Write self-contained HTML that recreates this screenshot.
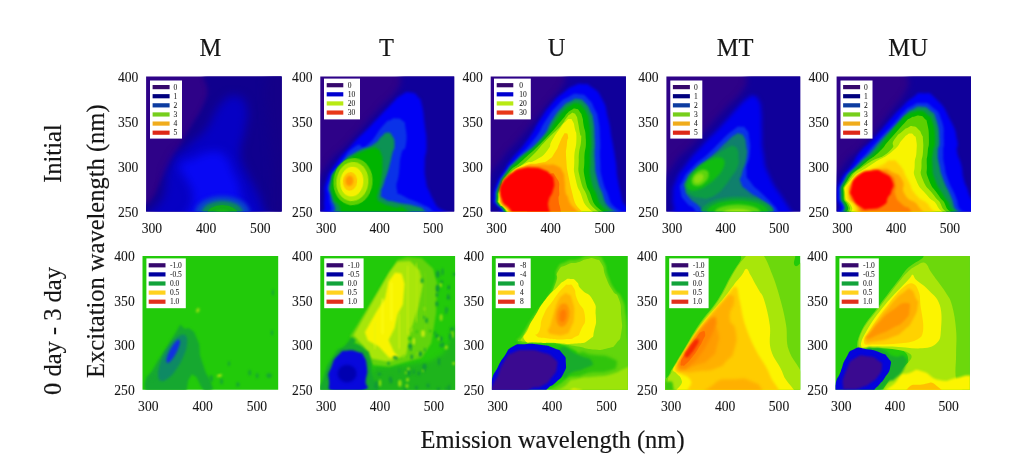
<!DOCTYPE html>
<html lang="en">
<head>
<meta charset="utf-8">
<title>Excitation-emission matrix contour plots</title>
<style>
html,body{margin:0;padding:0;background:#fff;}
body{width:1024px;height:472px;overflow:hidden;}
svg{display:block;font-family:"Liberation Serif", "DejaVu Serif", serif;}
text{fill:#151515;}
.t{font-size:13.6px;stroke:#151515;stroke-width:0.08px;}
.h{font-size:24.5px;stroke:#151515;stroke-width:0.16px;}
</style>
</head>
<body>
<svg width="1024" height="472" viewBox="0 0 1024 472">
<rect width="1024" height="472" fill="#fff"/>
<defs>
<filter id="z2" x="-60%" y="-60%" width="220%" height="220%" color-interpolation-filters="sRGB"><feGaussianBlur stdDeviation="2"/></filter>
<filter id="z3" x="-60%" y="-60%" width="220%" height="220%" color-interpolation-filters="sRGB"><feGaussianBlur stdDeviation="3"/></filter>
<filter id="z4" x="-60%" y="-60%" width="220%" height="220%" color-interpolation-filters="sRGB"><feGaussianBlur stdDeviation="4"/></filter>
<filter id="z6" x="-60%" y="-60%" width="220%" height="220%" color-interpolation-filters="sRGB"><feGaussianBlur stdDeviation="6"/></filter>
<filter id="z8" x="-60%" y="-60%" width="220%" height="220%" color-interpolation-filters="sRGB"><feGaussianBlur stdDeviation="8"/></filter>
<filter id="z10" x="-60%" y="-60%" width="220%" height="220%" color-interpolation-filters="sRGB"><feGaussianBlur stdDeviation="10"/></filter>
<filter id="z12" x="-60%" y="-60%" width="220%" height="220%" color-interpolation-filters="sRGB"><feGaussianBlur stdDeviation="12"/></filter>
<filter id="z16" x="-60%" y="-60%" width="220%" height="220%" color-interpolation-filters="sRGB"><feGaussianBlur stdDeviation="16"/></filter>
<filter id="z20" x="-60%" y="-60%" width="220%" height="220%" color-interpolation-filters="sRGB"><feGaussianBlur stdDeviation="20"/></filter>
<filter id="z26" x="-60%" y="-60%" width="220%" height="220%" color-interpolation-filters="sRGB"><feGaussianBlur stdDeviation="26"/></filter>
<filter id="z34" x="-60%" y="-60%" width="220%" height="220%" color-interpolation-filters="sRGB"><feGaussianBlur stdDeviation="34"/></filter>

<filter id="b1" x="-30%" y="-30%" width="160%" height="160%"><feGaussianBlur stdDeviation="1"/></filter>
<filter id="b2" x="-30%" y="-30%" width="160%" height="160%"><feGaussianBlur stdDeviation="2"/></filter>
<filter id="b3" x="-30%" y="-30%" width="160%" height="160%"><feGaussianBlur stdDeviation="3"/></filter>
<filter id="b5" x="-40%" y="-40%" width="180%" height="180%"><feGaussianBlur stdDeviation="5"/></filter>
<filter id="b8" x="-50%" y="-50%" width="200%" height="200%"><feGaussianBlur stdDeviation="8"/></filter>

</defs>
<text class="h" x="210.3" y="56" text-anchor="middle">M</text>
<text class="h" x="386.5" y="56" text-anchor="middle">T</text>
<text class="h" x="556.6" y="56" text-anchor="middle">U</text>
<text class="h" x="735.2" y="56" text-anchor="middle">MT</text>
<text class="h" x="908.1" y="56" text-anchor="middle">MU</text>
<text class="h" transform="translate(61.3 153.6) rotate(-90)" text-anchor="middle">Initial</text>
<text class="h" transform="translate(61.3 331) rotate(-90)" text-anchor="middle">0 day - 3 day</text>
<text class="h" transform="translate(104.2 241.2) rotate(-90)" text-anchor="middle">Excitation wavelength (nm)</text>
<text class="h" x="552.6" y="447.6" text-anchor="middle">Emission wavelength (nm)</text>
<text class="t" x="138.3" y="81.6" text-anchor="end">400</text>
<text class="t" x="138.3" y="126.6" text-anchor="end">350</text>
<text class="t" x="138.3" y="171.7" text-anchor="end">300</text>
<text class="t" x="138.3" y="216.7" text-anchor="end">250</text>
<text class="t" x="151.9" y="232.8" text-anchor="middle">300</text>
<text class="t" x="206.1" y="232.8" text-anchor="middle">400</text>
<text class="t" x="260.3" y="232.8" text-anchor="middle">500</text>
<svg x="146.1" y="76.5" width="135.5" height="135.1" viewBox="0 0 135.5 135.1" overflow="hidden">
<rect x="-2" y="-2" width="139.5" height="139.1" fill="#2e0288"/><g transform="translate(-2.10 -2.50) scale(0.29661)"><path d="M-30.0,520.0C-205.0,493.3 -23.3,471.7 -5.0,440.0C13.3,408.3 -2.7,465.0 25.0,425.0C52.7,385.0 35.7,398.7 78.0,320.0C120.3,241.3 109.0,266.3 152.0,189.0C195.0,111.7 174.3,161.0 207.0,88.0C239.7,15.0 145.7,9.3 250.0,-30.0C354.3,-69.3 430.0,-213.3 520.0,-30.0C610.0,153.3 703.3,336.7 520.0,520.0C336.7,703.3 145.0,546.7 -30.0,520.0Z" fill="#10008e" filter="url(#z8)"/><path d="M50.0,520.0C-63.7,480.0 55.0,473.3 69.0,400.0C83.0,326.7 65.0,353.3 92.0,300.0C119.0,246.7 111.7,277.0 150.0,240.0C188.3,203.0 177.0,225.7 207.0,189.0C237.0,152.3 219.0,163.0 240.0,130.0C261.0,97.0 246.7,108.3 270.0,90.0C293.3,71.7 285.0,68.3 310.0,75.0C335.0,81.7 335.0,72.0 345.0,110.0C355.0,148.0 346.7,139.0 340.0,189.0C333.3,239.0 325.0,216.3 325.0,260.0C325.0,303.7 322.3,276.3 340.0,320.0C357.7,363.7 358.0,347.7 378.0,391.0C398.0,434.3 389.3,407.0 400.0,450.0C410.7,493.0 526.7,496.7 410.0,520.0C293.3,543.3 163.7,560.0 50.0,520.0Z" fill="#0600c4" filter="url(#z16)"/><path d="M150.0,520.0C93.3,486.7 168.3,476.7 165.0,420.0C161.7,363.3 155.0,386.7 140.0,350.0C125.0,313.3 111.7,331.7 120.0,310.0C128.3,288.3 128.3,301.0 165.0,285.0C201.7,269.0 193.3,263.7 230.0,262.0C266.7,260.3 251.7,257.3 275.0,280.0C298.3,302.7 283.3,290.0 300.0,330.0C316.7,370.0 313.3,336.7 325.0,400.0C336.7,463.3 393.3,480.0 335.0,520.0C276.7,560.0 206.7,553.3 150.0,520.0Z" fill="#0808f4" filter="url(#z16)"/><path d="M425.0,-30.0C455.0,-140.0 488.3,-213.3 520.0,-30.0C551.7,153.3 543.3,336.7 520.0,520.0C496.7,703.3 480.0,593.3 450.0,520.0C420.0,446.7 438.3,483.3 430.0,300.0C421.7,116.7 395.0,80.0 425.0,-30.0Z" fill="#140088" filter="url(#z16)"/><ellipse cx="264" cy="468" rx="92" ry="56" fill="#0a48c8" filter="url(#z8)"/><ellipse cx="264" cy="470" rx="70" ry="42" fill="#0c8a58" filter="url(#z6)"/><ellipse cx="264" cy="472" rx="52" ry="30" fill="#10ac18" filter="url(#z5)"/><ellipse cx="264" cy="474" rx="30" ry="16" fill="#18bc10" filter="url(#z4)"/></g><rect x="3.9" y="4.0" width="32" height="58.1" fill="#fff"/><rect x="6.5" y="8.50" width="17" height="4.2" fill="#36086c"/><text x="27.5" y="13.07" font-size="7.5" style="fill:#222;stroke:#222;stroke-width:0.06px">0</text><rect x="6.5" y="17.62" width="17" height="4.2" fill="#00007e"/><text x="27.5" y="22.20" font-size="7.5" style="fill:#222;stroke:#222;stroke-width:0.06px">1</text><rect x="6.5" y="26.74" width="17" height="4.2" fill="#0c3ca0"/><text x="27.5" y="31.31" font-size="7.5" style="fill:#222;stroke:#222;stroke-width:0.06px">2</text><rect x="6.5" y="35.86" width="17" height="4.2" fill="#76ce1c"/><text x="27.5" y="40.44" font-size="7.5" style="fill:#222;stroke:#222;stroke-width:0.06px">3</text><rect x="6.5" y="44.98" width="17" height="4.2" fill="#f0ac1c"/><text x="27.5" y="49.55" font-size="7.5" style="fill:#222;stroke:#222;stroke-width:0.06px">4</text><rect x="6.5" y="54.10" width="17" height="4.2" fill="#de2818"/><text x="27.5" y="58.67" font-size="7.5" style="fill:#222;stroke:#222;stroke-width:0.06px">5</text>
</svg>
<text class="t" x="312.5" y="81.6" text-anchor="end">400</text>
<text class="t" x="312.5" y="126.6" text-anchor="end">350</text>
<text class="t" x="312.5" y="171.7" text-anchor="end">300</text>
<text class="t" x="312.5" y="216.7" text-anchor="end">250</text>
<text class="t" x="326.1" y="232.8" text-anchor="middle">300</text>
<text class="t" x="379.6" y="232.8" text-anchor="middle">400</text>
<text class="t" x="433.2" y="232.8" text-anchor="middle">500</text>
<svg x="320.3" y="76.5" width="133.9" height="135.1" viewBox="0 0 133.9 135.1" overflow="hidden">
<rect x="-2" y="-2" width="137.9" height="139.1" fill="#2e0288"/><g transform="translate(-2.30 -2.50) scale(0.29661)"><path d="M-30.0,520.0C-206.7,480.0 -30.0,470.0 -10.0,400.0C10.0,330.0 -10.0,368.3 30.0,310.0C70.0,251.7 53.3,286.7 110.0,225.0C166.7,163.3 146.7,183.3 200.0,125.0C253.3,66.7 233.3,101.7 270.0,50.0C306.7,-1.7 226.7,-3.3 310.0,-30.0C393.3,-56.7 450.0,-213.3 520.0,-30.0C590.0,153.3 703.3,336.7 520.0,520.0C336.7,703.3 146.7,560.0 -30.0,520.0Z" fill="#10009a" filter="url(#z10)"/><path d="M30.0,500.0C-104.3,484.0 24.7,480.3 22.0,452.0C19.3,423.7 20.0,445.3 22.0,415.0C24.0,384.7 14.7,399.3 28.0,361.0C41.3,322.7 33.7,340.3 62.0,300.0C90.3,259.7 73.7,282.7 113.0,240.0C152.3,197.3 136.0,217.3 180.0,172.0C224.0,126.7 211.7,137.3 245.0,104.0C278.3,70.7 257.7,86.0 280.0,72.0C302.3,58.0 292.7,60.0 312.0,62.0C331.3,64.0 325.3,64.0 338.0,78.0C350.7,92.0 342.7,72.7 350.0,104.0C357.3,135.3 354.7,127.0 360.0,172.0C365.3,217.0 366.0,196.3 366.0,239.0C366.0,281.7 360.7,259.3 360.0,300.0C359.3,340.7 358.7,328.3 364.0,361.0C369.3,393.7 365.0,371.3 376.0,398.0C387.0,424.7 380.7,407.0 397.0,441.0C413.3,475.0 547.3,480.3 425.0,500.0C302.7,519.7 164.3,516.0 30.0,500.0Z" fill="#0000f4" filter="url(#z6)"/><path d="M55.0,500.0C-65.0,484.0 50.7,480.3 45.0,452.0C39.3,423.7 40.3,445.3 38.0,415.0C35.7,384.7 25.3,399.3 38.0,361.0C50.7,322.7 47.0,338.7 76.0,300.0C105.0,261.3 95.0,265.3 125.0,245.0C155.0,224.7 134.0,263.3 166.0,239.0C198.0,214.7 194.7,200.0 221.0,172.0C247.3,144.0 230.7,162.3 245.0,155.0C259.3,147.7 250.7,149.0 264.0,150.0C277.3,151.0 274.7,148.0 285.0,158.0C295.3,168.0 291.3,153.0 295.0,180.0C298.7,207.0 300.7,209.0 296.0,239.0C291.3,269.0 288.7,238.3 281.0,270.0C273.3,301.7 278.0,294.0 273.0,334.0C268.0,374.0 261.0,364.3 266.0,390.0C271.0,415.7 262.0,395.3 288.0,411.0C314.0,426.7 311.0,419.7 344.0,437.0C377.0,454.3 366.7,442.0 387.0,463.0C407.3,484.0 515.7,487.7 405.0,500.0C294.3,512.3 175.0,516.0 55.0,500.0Z" fill="#0a32e8" filter="url(#z4)"/><path d="M68.0,500.0C-41.0,484.0 65.7,480.3 58.0,452.0C50.3,423.7 50.0,445.3 45.0,415.0C40.0,384.7 30.7,399.3 43.0,361.0C55.3,322.7 53.0,333.0 82.0,300.0C111.0,267.0 96.0,282.3 130.0,262.0C164.0,241.7 155.7,256.3 184.0,239.0C212.3,221.7 199.0,223.7 215.0,210.0C231.0,196.3 220.3,198.7 232.0,198.0C243.7,197.3 241.3,194.3 250.0,208.0C258.7,221.7 258.0,218.3 258.0,239.0C258.0,259.7 256.0,245.3 250.0,270.0C244.0,294.7 249.3,280.3 240.0,313.0C230.7,345.7 231.0,339.7 222.0,368.0C213.0,396.3 213.0,380.7 213.0,398.0C213.0,415.3 204.0,408.3 222.0,420.0C240.0,431.7 230.7,424.3 267.0,433.0C303.3,441.7 299.7,436.0 331.0,446.0C362.3,456.0 343.0,445.0 361.0,463.0C379.0,481.0 482.7,487.7 385.0,500.0C287.3,512.3 177.0,516.0 68.0,500.0Z" fill="#0c9254" filter="url(#z3)"/><path d="M85.0,500.0C5.0,484.0 86.3,480.3 75.0,452.0C63.7,423.7 60.7,445.3 51.0,415.0C41.3,384.7 43.0,391.0 46.0,361.0C49.0,331.0 46.0,346.0 60.0,325.0C74.0,304.0 68.0,314.3 88.0,298.0C108.0,281.7 99.3,288.3 120.0,276.0C140.7,263.7 130.0,269.7 150.0,261.0C170.0,252.3 163.3,253.0 180.0,250.0C196.7,247.0 189.0,245.3 200.0,252.0C211.0,258.7 207.3,254.0 213.0,270.0C218.7,286.0 217.0,271.7 217.0,300.0C217.0,328.3 217.7,322.3 213.0,355.0C208.3,387.7 207.3,377.0 203.0,398.0C198.7,419.0 196.0,406.0 200.0,418.0C204.0,430.0 196.7,424.0 215.0,434.0C233.3,444.0 228.3,440.7 255.0,448.0C281.7,455.3 275.0,438.7 295.0,456.0C315.0,473.3 385.0,485.3 315.0,500.0C245.0,514.7 165.0,516.0 85.0,500.0Z" fill="#00b400" filter="url(#z3)"/><ellipse cx="118" cy="363" rx="66" ry="80" fill="#5cd000" filter="url(#z2)" transform="rotate(6 118 363)"/><ellipse cx="116" cy="363" rx="54" ry="66" fill="#b0e800" filter="url(#z2)" transform="rotate(6 116 363)"/><ellipse cx="114" cy="363" rx="39" ry="50" fill="#f6f000" filter="url(#z2)" transform="rotate(6 114 363)"/><ellipse cx="108" cy="362" rx="24" ry="32" fill="#ffc800" filter="url(#z2)" transform="rotate(6 108 362)"/><ellipse cx="106" cy="360" rx="13.5" ry="18" fill="#ff9600" filter="url(#z3)" transform="rotate(6 106 360)"/></g><rect x="3.7" y="2.1" width="36" height="40.8" fill="#fff"/><rect x="6.4" y="6.60" width="16.6" height="4.2" fill="#36086c"/><text x="27.5" y="11.17" font-size="7.5" style="fill:#222;stroke:#222;stroke-width:0.06px">0</text><rect x="6.4" y="15.72" width="16.6" height="4.2" fill="#0000d0"/><text x="27.5" y="20.30" font-size="7.5" style="fill:#222;stroke:#222;stroke-width:0.06px">10</text><rect x="6.4" y="24.84" width="16.6" height="4.2" fill="#b8ea14"/><text x="27.5" y="29.41" font-size="7.5" style="fill:#222;stroke:#222;stroke-width:0.06px">20</text><rect x="6.4" y="33.96" width="16.6" height="4.2" fill="#e8381a"/><text x="27.5" y="38.54" font-size="7.5" style="fill:#222;stroke:#222;stroke-width:0.06px">30</text>
</svg>
<text class="t" x="482.9" y="81.6" text-anchor="end">400</text>
<text class="t" x="482.9" y="126.6" text-anchor="end">350</text>
<text class="t" x="482.9" y="171.7" text-anchor="end">300</text>
<text class="t" x="482.9" y="216.7" text-anchor="end">250</text>
<text class="t" x="496.5" y="232.8" text-anchor="middle">300</text>
<text class="t" x="550.6" y="232.8" text-anchor="middle">400</text>
<text class="t" x="604.7" y="232.8" text-anchor="middle">500</text>
<svg x="490.7" y="76.5" width="135.2" height="135.1" viewBox="0 0 135.2 135.1" overflow="hidden">
<rect x="-2" y="-2" width="139.2" height="139.1" fill="#2e0288"/><g transform="translate(-2.70 -2.50) scale(0.29661)"><path d="M-30.0,520.0C-205.0,473.3 -30.0,456.7 -5.0,380.0C20.0,303.3 5.0,346.7 45.0,290.0C85.0,233.3 65.0,270.0 115.0,210.0C165.0,150.0 148.3,168.3 195.0,110.0C241.7,51.7 223.3,81.7 255.0,35.0C286.7,-11.7 201.7,-8.3 290.0,-30.0C378.3,-51.7 443.3,-213.3 520.0,-30.0C596.7,153.3 703.3,336.7 520.0,520.0C336.7,703.3 145.0,566.7 -30.0,520.0Z" fill="#10009a" filter="url(#z10)"/><path d="M66.0,500.0C-74.0,486.0 56.7,478.7 42.0,458.0C27.3,437.3 30.0,450.7 22.0,438.0C14.0,425.3 16.0,442.0 18.0,420.0C20.0,398.0 14.7,405.3 28.0,372.0C41.3,338.7 41.3,347.3 58.0,320.0C74.7,292.7 52.7,322.7 78.0,290.0C103.3,257.3 101.7,267.0 134.0,222.0C166.3,177.0 148.0,195.7 175.0,155.0C202.0,114.3 187.3,131.7 215.0,100.0C242.7,68.3 233.0,80.0 258.0,60.0C283.0,40.0 270.0,48.7 290.0,40.0C310.0,31.3 298.0,32.3 318.0,34.0C338.0,35.7 327.7,28.0 350.0,45.0C372.3,62.0 366.7,50.0 385.0,85.0C403.3,120.0 394.0,104.3 405.0,150.0C416.0,195.7 409.7,175.3 418.0,222.0C426.3,268.7 423.3,245.0 430.0,290.0C436.7,335.0 430.7,312.0 438.0,357.0C445.3,402.0 444.0,377.3 452.0,425.0C460.0,472.7 590.7,475.0 462.0,500.0C333.3,525.0 206.0,514.0 66.0,500.0Z" fill="#0000f4" filter="url(#z6)"/><path d="M74.0,500.0C-50.3,486.0 64.0,478.7 49.0,458.0C34.0,437.3 37.0,450.7 29.0,438.0C21.0,425.3 23.7,440.7 25.0,420.0C26.3,399.3 20.7,407.7 33.0,376.0C45.3,344.3 42.3,353.7 62.0,325.0C81.7,296.3 61.0,324.3 92.0,290.0C123.0,255.7 120.3,267.0 155.0,222.0C189.7,177.0 169.3,194.0 196.0,155.0C222.7,116.0 210.3,130.7 235.0,105.0C259.7,79.3 245.7,90.3 270.0,78.0C294.3,65.7 285.3,66.0 308.0,68.0C330.7,70.0 320.7,66.7 338.0,84.0C355.3,101.3 348.7,96.3 360.0,120.0C371.3,143.7 366.0,121.0 372.0,155.0C378.0,189.0 376.0,177.0 378.0,222.0C380.0,267.0 375.3,245.0 378.0,290.0C380.7,335.0 375.3,312.0 386.0,357.0C396.7,402.0 398.0,377.3 410.0,425.0C422.0,472.7 534.0,475.0 422.0,500.0C310.0,525.0 198.3,514.0 74.0,500.0Z" fill="#0a32e8" filter="url(#z4)"/><path d="M77.0,500.0C-39.7,486.0 67.0,478.7 52.0,458.0C37.0,437.3 40.0,450.7 32.0,438.0C24.0,425.3 26.7,440.0 28.0,420.0C29.3,400.0 24.0,408.7 36.0,378.0C48.0,347.3 43.3,357.3 64.0,328.0C84.7,298.7 61.0,325.3 98.0,290.0C135.0,254.7 135.3,267.0 175.0,222.0C214.7,177.0 192.0,191.7 217.0,155.0C242.0,118.3 229.7,133.0 250.0,112.0C270.3,91.0 260.0,101.3 278.0,92.0C296.0,82.7 287.3,82.0 304.0,84.0C320.7,86.0 314.0,83.3 328.0,98.0C342.0,112.7 337.0,109.0 346.0,128.0C355.0,147.0 350.3,123.7 355.0,155.0C359.7,186.3 358.3,177.0 360.0,222.0C361.7,267.0 357.0,245.0 360.0,290.0C363.0,335.0 358.3,312.0 369.0,357.0C379.7,402.0 381.0,377.3 392.0,425.0C403.0,472.7 507.0,475.0 402.0,500.0C297.0,525.0 193.7,514.0 77.0,500.0Z" fill="#0c9254" filter="url(#z3)"/><path d="M80.0,500.0C-29.7,486.0 70.0,478.7 55.0,458.0C40.0,437.3 43.0,450.7 35.0,438.0C27.0,425.3 29.7,439.3 31.0,420.0C32.3,400.7 27.3,409.7 39.0,380.0C50.7,350.3 44.3,361.0 66.0,331.0C87.7,301.0 65.3,326.3 104.0,290.0C142.7,253.7 140.0,267.0 182.0,222.0C224.0,177.0 205.3,188.0 230.0,155.0C254.7,122.0 240.0,139.3 256.0,123.0C272.0,106.7 263.3,114.0 278.0,106.0C292.7,98.0 286.0,97.0 300.0,99.0C314.0,101.0 308.7,99.7 320.0,112.0C331.3,124.3 327.3,121.7 334.0,136.0C340.7,150.3 335.7,126.3 340.0,155.0C344.3,183.7 345.3,177.0 347.0,222.0C348.7,267.0 344.7,245.0 345.0,290.0C345.3,335.0 339.0,312.0 348.0,357.0C357.0,402.0 360.0,377.3 372.0,425.0C384.0,472.7 481.3,475.0 384.0,500.0C286.7,525.0 189.7,514.0 80.0,500.0Z" fill="#00b400" filter="url(#z3)"/><path d="M82.0,500.0C-21.0,486.0 72.0,478.7 57.0,458.0C42.0,437.3 45.0,450.7 37.0,438.0C29.0,425.3 31.7,438.7 33.0,420.0C34.3,401.3 29.3,410.7 41.0,382.0C52.7,353.3 42.3,364.7 68.0,334.0C93.7,303.3 77.3,327.3 118.0,290.0C158.7,252.7 146.3,267.0 190.0,222.0C233.7,177.0 224.3,183.7 249.0,155.0C273.7,126.3 253.7,147.0 264.0,136.0C274.3,125.0 269.3,128.3 280.0,122.0C290.7,115.7 286.0,115.0 296.0,117.0C306.0,119.0 302.7,118.3 310.0,128.0C317.3,137.7 314.0,132.0 318.0,146.0C322.0,160.0 318.0,144.7 322.0,170.0C326.0,195.3 329.0,182.0 330.0,222.0C331.0,262.0 325.7,245.0 325.0,290.0C324.3,335.0 319.0,312.0 328.0,357.0C337.0,402.0 339.3,377.3 352.0,425.0C364.7,472.7 456.0,475.0 366.0,500.0C276.0,525.0 185.0,514.0 82.0,500.0Z" fill="#5cd000" filter="url(#z2)"/><path d="M84.0,500.0C-13.7,486.0 74.0,478.7 59.0,458.0C44.0,437.3 47.0,450.7 39.0,438.0C31.0,425.3 33.7,438.0 35.0,420.0C36.3,402.0 31.3,411.7 43.0,384.0C54.7,356.3 39.7,368.3 70.0,337.0C100.3,305.7 91.3,328.3 134.0,290.0C176.7,251.7 161.0,260.3 198.0,222.0C235.0,183.7 223.3,199.0 245.0,175.0C266.7,151.0 252.3,163.0 263.0,150.0C273.7,137.0 268.3,142.0 277.0,136.0C285.7,130.0 282.0,130.0 289.0,132.0C296.0,134.0 293.3,132.7 298.0,142.0C302.7,151.3 299.0,140.7 303.0,160.0C307.0,179.3 306.3,179.3 310.0,200.0C313.7,220.7 315.3,192.0 314.0,222.0C312.7,252.0 306.7,245.0 306.0,290.0C305.3,335.0 301.3,312.0 312.0,357.0C322.7,402.0 324.7,377.3 338.0,425.0C351.3,472.7 436.7,475.0 352.0,500.0C267.3,525.0 181.7,514.0 84.0,500.0Z" fill="#b0e800" filter="url(#z2)"/><path d="M87.0,500.0C-4.0,486.0 77.0,478.7 62.0,458.0C47.0,437.3 50.0,450.7 42.0,438.0C34.0,425.3 36.7,437.3 38.0,420.0C39.3,402.7 34.7,412.7 46.0,386.0C57.3,359.3 47.3,367.0 72.0,340.0C96.7,313.0 90.3,321.7 120.0,305.0C149.7,288.3 134.3,305.7 161.0,290.0C187.7,274.3 181.3,280.7 200.0,258.0C218.7,235.3 202.0,248.0 217.0,222.0C232.0,196.0 230.0,200.7 245.0,180.0C260.0,159.3 252.0,169.3 262.0,160.0C272.0,150.7 267.0,152.0 275.0,152.0C283.0,152.0 280.0,149.0 286.0,160.0C292.0,171.0 289.0,164.3 293.0,185.0C297.0,205.7 298.7,187.0 298.0,222.0C297.3,257.0 291.7,245.0 291.0,290.0C290.3,335.0 286.3,312.0 296.0,357.0C305.7,402.0 307.0,377.3 320.0,425.0C333.0,472.7 412.7,475.0 335.0,500.0C257.3,525.0 178.0,514.0 87.0,500.0Z" fill="#f8f400" filter="url(#z2)"/><path d="M90.0,500.0C10.0,486.0 80.0,478.7 65.0,458.0C50.0,437.3 53.0,450.7 45.0,438.0C37.0,425.3 39.3,436.7 41.0,420.0C42.7,403.3 38.7,413.3 50.0,388.0C61.3,362.7 51.0,369.7 75.0,344.0C99.0,318.3 89.7,325.7 122.0,311.0C154.3,296.3 145.0,307.0 172.0,300.0C199.0,293.0 184.7,302.7 203.0,290.0C221.3,277.3 214.7,280.0 227.0,262.0C239.3,244.0 231.7,253.3 240.0,236.0C248.3,218.7 244.7,222.0 252.0,210.0C259.3,198.0 256.0,199.3 262.0,200.0C268.0,200.7 268.7,200.0 270.0,212.0C271.3,224.0 268.0,210.0 266.0,236.0C264.0,262.0 261.3,249.7 264.0,290.0C266.7,330.3 265.3,312.0 274.0,357.0C282.7,402.0 279.7,377.3 290.0,425.0C300.3,472.7 371.7,475.0 305.0,500.0C238.3,525.0 170.0,514.0 90.0,500.0Z" fill="#ffc400" filter="url(#z2)"/><path d="M94.0,500.0C22.0,486.0 84.0,478.7 69.0,458.0C54.0,437.3 57.0,450.7 49.0,438.0C41.0,425.3 43.7,436.0 45.0,420.0C46.3,404.0 42.0,414.3 53.0,390.0C64.0,365.7 54.3,372.0 78.0,347.0C101.7,322.0 95.0,328.0 124.0,315.0C153.0,302.0 139.7,311.0 165.0,308.0C190.3,305.0 177.7,305.3 200.0,306.0C222.3,306.7 214.7,302.0 232.0,310.0C249.3,318.0 243.3,314.3 252.0,330.0C260.7,345.7 254.7,333.7 258.0,357.0C261.3,380.3 257.3,377.3 262.0,400.0C266.7,422.7 264.3,391.7 272.0,425.0C279.7,458.3 344.3,475.0 285.0,500.0C225.7,525.0 166.0,514.0 94.0,500.0Z" fill="#ff9800" filter="url(#z3)"/><path d="M150.0,500.0C116.7,460.0 133.3,433.3 150.0,380.0C166.7,326.7 172.7,349.3 200.0,340.0C227.3,330.7 218.7,333.7 232.0,352.0C245.3,370.3 238.0,370.7 240.0,395.0C242.0,419.3 236.3,403.3 238.0,425.0C239.7,446.7 241.0,435.0 245.0,460.0C249.0,485.0 281.7,486.7 250.0,500.0C218.3,513.3 183.3,540.0 150.0,500.0Z" fill="#ff6a00" filter="url(#z5)"/><path d="M100.0,500.0C53.3,486.0 90.3,478.7 75.0,458.0C59.7,437.3 63.7,450.0 54.0,438.0C44.3,426.0 50.7,434.7 46.0,422.0C41.3,409.3 42.0,412.7 40.0,400.0C38.0,387.3 37.3,395.3 40.0,384.0C42.7,372.7 41.3,377.3 48.0,366.0C54.7,354.7 47.7,362.0 60.0,350.0C72.3,338.0 66.7,340.7 85.0,330.0C103.3,319.3 93.3,323.0 115.0,318.0C136.7,313.0 126.7,313.7 150.0,315.0C173.3,316.3 165.0,314.3 185.0,322.0C205.0,329.7 197.7,325.0 210.0,338.0C222.3,351.0 219.3,342.0 222.0,361.0C224.7,380.0 223.7,373.7 218.0,395.0C212.3,416.3 209.3,405.0 205.0,425.0C200.7,445.0 201.7,430.0 205.0,455.0C208.3,480.0 250.0,485.0 215.0,500.0C180.0,515.0 146.7,514.0 100.0,500.0Z" fill="#ff0000" filter="url(#z3)"/></g><rect x="3.3" y="2.1" width="36.8" height="40.8" fill="#fff"/><rect x="6.0" y="6.60" width="16.6" height="4.2" fill="#36086c"/><text x="28.5" y="11.17" font-size="7.5" style="fill:#222;stroke:#222;stroke-width:0.06px">0</text><rect x="6.0" y="15.72" width="16.6" height="4.2" fill="#0000d0"/><text x="28.5" y="20.30" font-size="7.5" style="fill:#222;stroke:#222;stroke-width:0.06px">10</text><rect x="6.0" y="24.84" width="16.6" height="4.2" fill="#b8ea14"/><text x="28.5" y="29.41" font-size="7.5" style="fill:#222;stroke:#222;stroke-width:0.06px">20</text><rect x="6.0" y="33.96" width="16.6" height="4.2" fill="#e8381a"/><text x="28.5" y="38.54" font-size="7.5" style="fill:#222;stroke:#222;stroke-width:0.06px">30</text>
</svg>
<text class="t" x="658.6" y="81.6" text-anchor="end">400</text>
<text class="t" x="658.6" y="126.6" text-anchor="end">350</text>
<text class="t" x="658.6" y="171.7" text-anchor="end">300</text>
<text class="t" x="658.6" y="216.7" text-anchor="end">250</text>
<text class="t" x="672.2" y="232.8" text-anchor="middle">300</text>
<text class="t" x="725.7" y="232.8" text-anchor="middle">400</text>
<text class="t" x="779.2" y="232.8" text-anchor="middle">500</text>
<svg x="666.4" y="76.5" width="133.8" height="135.1" viewBox="0 0 133.8 135.1" overflow="hidden">
<rect x="-2" y="-2" width="137.8" height="139.1" fill="#2e0288"/><g transform="translate(-2.40 -2.50) scale(0.29661)"><path d="M-30.0,520.0C-206.7,480.0 -30.0,470.0 -10.0,400.0C10.0,330.0 -10.0,368.3 30.0,310.0C70.0,251.7 53.3,286.7 110.0,225.0C166.7,163.3 146.7,183.3 200.0,125.0C253.3,66.7 233.3,101.7 270.0,50.0C306.7,-1.7 226.7,-3.3 310.0,-30.0C393.3,-56.7 450.0,-213.3 520.0,-30.0C590.0,153.3 703.3,336.7 520.0,520.0C336.7,703.3 146.7,560.0 -30.0,520.0Z" fill="#10009a" filter="url(#z10)"/><path d="M50.0,500.0C-86.7,484.0 41.7,480.3 35.0,452.0C28.3,423.7 28.3,445.3 30.0,415.0C31.7,384.7 25.0,397.7 40.0,361.0C55.0,324.3 45.7,344.7 75.0,305.0C104.3,265.3 89.0,285.0 128.0,242.0C167.0,199.0 151.3,219.3 192.0,176.0C232.7,132.7 220.0,143.3 250.0,112.0C280.0,80.7 264.3,94.7 282.0,82.0C299.7,69.3 290.3,71.3 303.0,74.0C315.7,76.7 311.7,73.0 320.0,90.0C328.3,107.0 324.7,90.7 328.0,125.0C331.3,159.3 327.7,145.3 330.0,193.0C332.3,240.7 326.7,218.0 335.0,268.0C343.3,318.0 333.3,293.0 355.0,343.0C376.7,393.0 375.7,378.3 400.0,418.0C424.3,457.7 413.0,434.7 428.0,462.0C443.0,489.3 571.0,487.3 445.0,500.0C319.0,512.7 186.7,516.0 50.0,500.0Z" fill="#0000ee" filter="url(#z8)"/><path d="M120.0,500.0C21.7,486.3 120.0,481.3 105.0,459.0C90.0,436.7 91.3,454.0 75.0,433.0C58.7,412.0 59.7,421.0 56.0,396.0C52.3,371.0 50.0,385.7 64.0,358.0C78.0,330.3 69.3,343.0 98.0,313.0C126.7,283.0 117.7,298.0 150.0,268.0C182.3,238.0 166.7,249.7 195.0,223.0C223.3,196.3 213.7,203.0 235.0,188.0C256.3,173.0 244.7,178.0 259.0,178.0C273.3,178.0 268.7,175.7 278.0,188.0C287.3,200.3 283.3,188.3 287.0,215.0C290.7,241.7 292.0,230.3 289.0,268.0C286.0,305.7 276.7,295.3 278.0,328.0C279.3,360.7 275.7,341.0 293.0,366.0C310.3,391.0 305.0,378.0 330.0,403.0C355.0,428.0 350.3,421.3 368.0,441.0C385.7,460.7 372.3,442.3 383.0,462.0C393.7,481.7 487.7,487.3 400.0,500.0C312.3,512.7 218.3,513.7 120.0,500.0Z" fill="#0a32e8" filter="url(#z4)"/><path d="M140.0,500.0C57.7,487.3 137.0,481.7 128.0,462.0C119.0,442.3 127.0,455.7 113.0,441.0C99.0,426.3 100.0,435.7 86.0,418.0C72.0,400.3 74.7,408.0 71.0,388.0C67.3,368.0 63.7,380.7 75.0,358.0C86.3,335.3 77.3,346.3 105.0,320.0C132.7,293.7 123.0,309.0 158.0,279.0C193.0,249.0 182.7,254.7 210.0,230.0C237.3,205.3 224.3,214.3 240.0,205.0C255.7,195.7 247.0,199.7 257.0,202.0C267.0,204.3 263.3,199.3 270.0,212.0C276.7,224.7 274.3,216.3 277.0,240.0C279.7,263.7 282.7,251.3 278.0,283.0C273.3,314.7 269.3,307.3 263.0,335.0C256.7,362.7 251.7,345.7 259.0,366.0C266.3,386.3 261.3,376.0 285.0,396.0C308.7,416.0 305.0,404.0 330.0,426.0C355.0,448.0 345.0,437.3 360.0,462.0C375.0,486.7 448.3,487.3 375.0,500.0C301.7,512.7 222.3,512.7 140.0,500.0Z" fill="#10806c" filter="url(#z4)"/><path d="M128.0,418.0C108.0,414.3 107.7,418.3 90.0,407.0C72.3,395.7 78.7,400.3 75.0,384.0C71.3,367.7 69.0,378.0 79.0,358.0C89.0,338.0 81.3,346.7 105.0,324.0C128.7,301.3 120.0,311.3 150.0,290.0C180.0,268.7 171.7,275.0 195.0,260.0C218.3,245.0 206.3,250.3 220.0,245.0C233.7,239.7 226.7,240.3 236.0,244.0C245.3,247.7 243.0,244.0 248.0,256.0C253.0,268.0 251.0,261.0 251.0,280.0C251.0,299.0 256.7,289.7 248.0,313.0C239.3,336.3 240.0,327.7 225.0,350.0C210.0,372.3 218.0,362.3 203.0,380.0C188.0,397.7 197.7,390.3 180.0,403.0C162.3,415.7 167.3,413.0 150.0,418.0C132.7,423.0 148.0,421.7 128.0,418.0Z" fill="#0c9c44" filter="url(#z4)"/><ellipse cx="141" cy="337" rx="78" ry="33" fill="#10bc10" filter="url(#z4)" transform="rotate(-40 141 337)"/><ellipse cx="122" cy="350" rx="34" ry="22" fill="#5cd40c" filter="url(#z3)" transform="rotate(-42 122 350)"/><ellipse cx="117" cy="352" rx="19" ry="13" fill="#8cde10" filter="url(#z3)" transform="rotate(-42 117 352)"/><ellipse cx="248" cy="464" rx="122" ry="50" fill="#0c9c44" filter="url(#z4)"/><ellipse cx="248" cy="466" rx="104" ry="40" fill="#10bc10" filter="url(#z4)"/><ellipse cx="248" cy="468" rx="78" ry="28" fill="#5cd40c" filter="url(#z3)"/><ellipse cx="248" cy="470" rx="50" ry="15" fill="#a0e410" filter="url(#z3)"/></g><rect x="3.9" y="4.0" width="32" height="58.1" fill="#fff"/><rect x="6.5" y="8.50" width="17" height="4.2" fill="#36086c"/><text x="27.5" y="13.07" font-size="7.5" style="fill:#222;stroke:#222;stroke-width:0.06px">0</text><rect x="6.5" y="17.62" width="17" height="4.2" fill="#00007e"/><text x="27.5" y="22.20" font-size="7.5" style="fill:#222;stroke:#222;stroke-width:0.06px">1</text><rect x="6.5" y="26.74" width="17" height="4.2" fill="#0c3ca0"/><text x="27.5" y="31.31" font-size="7.5" style="fill:#222;stroke:#222;stroke-width:0.06px">2</text><rect x="6.5" y="35.86" width="17" height="4.2" fill="#76ce1c"/><text x="27.5" y="40.44" font-size="7.5" style="fill:#222;stroke:#222;stroke-width:0.06px">3</text><rect x="6.5" y="44.98" width="17" height="4.2" fill="#f0ac1c"/><text x="27.5" y="49.55" font-size="7.5" style="fill:#222;stroke:#222;stroke-width:0.06px">4</text><rect x="6.5" y="54.10" width="17" height="4.2" fill="#de2818"/><text x="27.5" y="58.67" font-size="7.5" style="fill:#222;stroke:#222;stroke-width:0.06px">5</text>
</svg>
<text class="t" x="828.8" y="81.6" text-anchor="end">400</text>
<text class="t" x="828.8" y="126.6" text-anchor="end">350</text>
<text class="t" x="828.8" y="171.7" text-anchor="end">300</text>
<text class="t" x="828.8" y="216.7" text-anchor="end">250</text>
<text class="t" x="842.4" y="232.8" text-anchor="middle">300</text>
<text class="t" x="896.1" y="232.8" text-anchor="middle">400</text>
<text class="t" x="949.9" y="232.8" text-anchor="middle">500</text>
<svg x="836.6" y="76.5" width="134.4" height="135.1" viewBox="0 0 134.4 135.1" overflow="hidden">
<rect x="-2" y="-2" width="138.4" height="139.1" fill="#2e0288"/><g transform="translate(-2.60 -2.50) scale(0.29661)"><path d="M-30.0,520.0C-205.0,476.7 -26.7,461.7 -5.0,390.0C16.7,318.3 -1.7,356.7 35.0,305.0C71.7,253.3 55.0,291.7 105.0,235.0C155.0,178.3 138.3,195.0 185.0,135.0C231.7,75.0 211.7,110.0 245.0,55.0C278.3,0.0 193.3,-1.7 285.0,-30.0C376.7,-58.3 441.7,-213.3 520.0,-30.0C598.3,153.3 703.3,336.7 520.0,520.0C336.7,703.3 145.0,563.3 -30.0,520.0Z" fill="#10009a" filter="url(#z10)"/><path d="M35.0,500.0C-116.7,482.7 28.7,478.7 20.0,448.0C11.3,417.3 8.0,438.3 9.0,408.0C10.0,377.7 6.0,390.7 23.0,357.0C40.0,323.3 38.3,338.3 60.0,307.0C81.7,275.7 64.7,291.3 88.0,263.0C111.3,234.7 99.3,254.7 130.0,222.0C160.7,189.3 148.0,200.7 180.0,165.0C212.0,129.3 197.7,143.3 226.0,115.0C254.3,86.7 240.3,96.7 265.0,80.0C289.7,63.3 273.3,63.3 300.0,65.0C326.7,66.7 314.3,55.0 345.0,85.0C375.7,115.0 368.7,109.3 392.0,155.0C415.3,200.7 407.3,186.0 415.0,222.0C422.7,258.0 410.3,234.7 415.0,263.0C419.7,291.3 421.3,275.7 429.0,307.0C436.7,338.3 429.0,323.3 438.0,357.0C447.0,390.7 443.7,360.3 456.0,408.0C468.3,455.7 615.3,469.3 475.0,500.0C334.7,530.7 186.7,517.3 35.0,500.0Z" fill="#0000f4" filter="url(#z6)"/><path d="M48.0,500.0C-85.3,482.7 40.0,478.7 30.0,448.0C20.0,417.3 17.3,438.3 18.0,408.0C18.7,377.7 13.3,390.7 32.0,357.0C50.7,323.3 47.0,338.3 74.0,307.0C101.0,275.7 87.7,291.3 113.0,263.0C138.3,234.7 120.0,254.7 150.0,222.0C180.0,189.3 174.7,196.3 203.0,165.0C231.3,133.7 215.3,147.0 235.0,128.0C254.7,109.0 242.0,118.0 262.0,108.0C282.0,98.0 271.7,96.7 295.0,98.0C318.3,99.3 309.7,93.0 332.0,112.0C354.3,131.0 349.3,118.3 362.0,155.0C374.7,191.7 368.0,186.0 370.0,222.0C372.0,258.0 367.3,234.7 368.0,263.0C368.7,291.3 366.3,275.7 372.0,307.0C377.7,338.3 373.0,323.3 385.0,357.0C397.0,390.7 396.3,377.7 408.0,408.0C419.7,438.3 412.7,417.3 420.0,448.0C427.3,478.7 554.0,482.7 430.0,500.0C306.0,517.3 181.3,517.3 48.0,500.0Z" fill="#0a32e8" filter="url(#z4)"/><path d="M55.0,500.0C-71.3,482.7 47.0,478.7 36.0,448.0C25.0,417.3 22.0,438.3 22.0,408.0C22.0,377.7 16.7,390.7 36.0,357.0C55.3,323.3 50.3,338.3 80.0,307.0C109.7,275.7 98.3,291.3 125.0,263.0C151.7,234.7 130.0,254.7 160.0,222.0C190.0,189.3 188.3,193.0 215.0,165.0C241.7,137.0 223.7,153.0 240.0,138.0C256.3,123.0 245.7,129.3 264.0,120.0C282.3,110.7 274.7,108.7 295.0,110.0C315.3,111.3 308.3,109.0 325.0,124.0C341.7,139.0 335.0,122.3 345.0,155.0C355.0,187.7 353.3,186.0 355.0,222.0C356.7,258.0 350.0,234.7 350.0,263.0C350.0,291.3 348.7,275.7 355.0,307.0C361.3,338.3 356.7,323.3 369.0,357.0C381.3,390.7 380.0,377.7 392.0,408.0C404.0,438.3 397.3,417.3 405.0,448.0C412.7,478.7 531.7,482.7 415.0,500.0C298.3,517.3 181.3,517.3 55.0,500.0Z" fill="#0c9254" filter="url(#z3)"/><path d="M62.0,500.0C-57.7,482.7 52.3,478.7 41.0,448.0C29.7,417.3 28.0,438.3 28.0,408.0C28.0,377.7 21.0,390.7 41.0,357.0C61.0,323.3 55.7,338.3 88.0,307.0C120.3,275.7 110.3,291.3 138.0,263.0C165.7,234.7 141.7,258.0 171.0,222.0C200.3,186.0 200.3,183.3 226.0,155.0C251.7,126.7 234.0,146.0 248.0,137.0C262.0,128.0 253.3,132.3 268.0,128.0C282.7,123.7 276.3,121.0 292.0,124.0C307.7,127.0 301.7,125.0 315.0,137.0C328.3,149.0 323.3,131.7 332.0,160.0C340.7,188.3 340.3,187.7 341.0,222.0C341.7,256.3 337.0,234.7 334.0,263.0C331.0,291.3 329.7,275.7 332.0,307.0C334.3,338.3 328.7,323.3 341.0,357.0C353.3,390.7 352.0,377.7 369.0,408.0C386.0,438.3 381.7,417.3 392.0,448.0C402.3,478.7 510.0,482.7 400.0,500.0C290.0,517.3 181.7,517.3 62.0,500.0Z" fill="#00b400" filter="url(#z3)"/><path d="M68.0,500.0C-44.7,482.7 59.0,478.7 47.0,448.0C35.0,417.3 32.3,438.3 32.0,408.0C31.7,377.7 24.3,390.7 46.0,357.0C67.7,323.3 61.7,338.3 97.0,307.0C132.3,275.7 122.0,291.3 152.0,263.0C182.0,234.7 158.3,254.7 187.0,222.0C215.7,189.3 215.3,189.0 238.0,165.0C260.7,141.0 243.7,157.3 255.0,150.0C266.3,142.7 260.3,146.0 272.0,143.0C283.7,140.0 279.0,138.7 290.0,141.0C301.0,143.3 296.7,140.3 305.0,150.0C313.3,159.7 310.0,146.0 315.0,170.0C320.0,194.0 319.7,191.0 320.0,222.0C320.3,253.0 318.3,234.7 316.0,263.0C313.7,291.3 311.7,275.7 313.0,307.0C314.3,338.3 307.0,323.3 320.0,357.0C333.0,390.7 332.7,377.7 352.0,408.0C371.3,438.3 367.0,417.3 378.0,448.0C389.0,478.7 488.3,482.7 385.0,500.0C281.7,517.3 180.7,517.3 68.0,500.0Z" fill="#5cd000" filter="url(#z2)"/><path d="M75.0,500.0C-31.3,482.7 66.3,478.7 53.0,448.0C39.7,417.3 35.7,438.3 35.0,408.0C34.3,377.7 27.3,390.7 51.0,357.0C74.7,323.3 61.7,338.3 106.0,307.0C150.3,275.7 151.7,291.3 184.0,263.0C216.3,234.7 187.0,245.7 203.0,222.0C219.0,198.3 216.3,206.0 232.0,192.0C247.7,178.0 238.7,185.3 250.0,180.0C261.3,174.7 254.7,174.0 266.0,176.0C277.3,178.0 274.0,176.3 284.0,186.0C294.0,195.7 290.7,193.0 296.0,205.0C301.3,217.0 298.7,202.7 300.0,222.0C301.3,241.3 301.7,234.7 300.0,263.0C298.3,291.3 295.0,275.7 295.0,307.0C295.0,338.3 286.3,323.3 300.0,357.0C313.7,390.7 314.7,377.7 336.0,408.0C357.3,438.3 352.0,417.3 364.0,448.0C376.0,478.7 468.3,482.7 372.0,500.0C275.7,517.3 181.3,517.3 75.0,500.0Z" fill="#b0e800" filter="url(#z2)"/><path d="M82.0,500.0C-17.3,482.7 74.7,478.7 60.0,448.0C45.3,417.3 39.0,438.3 38.0,408.0C37.0,377.7 28.3,390.7 57.0,357.0C85.7,323.3 78.3,338.3 124.0,307.0C169.7,275.7 158.7,291.3 194.0,263.0C229.3,234.7 212.7,241.0 230.0,222.0C247.3,203.0 236.7,213.0 246.0,206.0C255.3,199.0 250.0,200.3 258.0,201.0C266.0,201.7 263.7,201.0 270.0,208.0C276.3,215.0 274.3,203.7 277.0,222.0C279.7,240.3 279.7,234.7 278.0,263.0C276.3,291.3 272.3,275.7 272.0,307.0C271.7,338.3 263.3,323.3 277.0,357.0C290.7,390.7 288.7,377.7 313.0,408.0C337.3,438.3 335.0,417.3 350.0,448.0C365.0,478.7 447.3,482.7 358.0,500.0C268.7,517.3 181.3,517.3 82.0,500.0Z" fill="#f8f400" filter="url(#z2)"/><path d="M90.0,500.0C2.7,482.7 85.3,478.7 70.0,448.0C54.7,417.3 46.0,438.3 44.0,408.0C42.0,377.7 45.3,382.3 64.0,357.0C82.7,331.7 67.7,348.7 100.0,332.0C132.3,315.3 131.0,320.3 161.0,307.0C191.0,293.7 170.0,292.0 190.0,292.0C210.0,292.0 201.3,285.3 221.0,307.0C240.7,328.7 230.3,323.3 249.0,357.0C267.7,390.7 252.3,377.7 277.0,408.0C301.7,438.3 304.7,417.3 323.0,448.0C341.3,478.7 409.7,482.7 332.0,500.0C254.3,517.3 177.3,517.3 90.0,500.0Z" fill="#ffd000" filter="url(#z3)"/><path d="M100.0,500.0C27.3,482.7 94.3,478.7 78.0,448.0C61.7,417.3 54.0,438.3 51.0,408.0C48.0,377.7 49.3,382.0 69.0,357.0C88.7,332.0 79.7,345.3 110.0,333.0C140.3,320.7 131.3,321.0 160.0,320.0C188.7,319.0 172.7,317.7 196.0,330.0C219.3,342.3 215.3,331.0 230.0,357.0C244.7,383.0 221.3,377.7 240.0,408.0C258.7,438.3 267.3,417.3 286.0,448.0C304.7,478.7 358.0,482.7 296.0,500.0C234.0,517.3 172.7,517.3 100.0,500.0Z" fill="#ffa400" filter="url(#z3)"/><path d="M110.0,500.0C51.0,482.7 103.0,478.0 85.0,448.0C67.0,418.0 60.3,440.3 56.0,410.0C51.7,379.7 53.3,382.3 72.0,357.0C90.7,331.7 86.0,344.3 112.0,334.0C138.0,323.7 124.0,324.0 150.0,326.0C176.0,328.0 171.0,325.3 190.0,340.0C209.0,354.7 201.3,347.3 207.0,370.0C212.7,392.7 199.3,384.7 207.0,408.0C214.7,431.3 213.0,422.7 230.0,440.0C247.0,457.3 247.3,440.0 258.0,460.0C268.7,480.0 311.3,486.7 262.0,500.0C212.7,513.3 169.0,517.3 110.0,500.0Z" fill="#ff7a00" filter="url(#z4)"/><path d="M120.0,455.0C94.7,456.7 109.3,461.0 90.0,448.0C70.7,435.0 72.7,437.3 62.0,416.0C51.3,394.7 51.7,408.3 58.0,384.0C64.3,359.7 57.7,362.3 81.0,343.0C104.3,323.7 99.3,329.0 128.0,326.0C156.7,323.0 144.0,322.0 167.0,334.0C190.0,346.0 188.3,341.0 197.0,362.0C205.7,383.0 198.0,379.0 193.0,397.0C188.0,415.0 191.0,400.7 182.0,416.0C173.0,431.3 186.7,430.0 166.0,443.0C145.3,456.0 145.3,453.3 120.0,455.0Z" fill="#ff0000" filter="url(#z3)"/></g><rect x="3.9" y="4.0" width="32" height="58.1" fill="#fff"/><rect x="6.5" y="8.50" width="17" height="4.2" fill="#36086c"/><text x="27.5" y="13.07" font-size="7.5" style="fill:#222;stroke:#222;stroke-width:0.06px">0</text><rect x="6.5" y="17.62" width="17" height="4.2" fill="#00007e"/><text x="27.5" y="22.20" font-size="7.5" style="fill:#222;stroke:#222;stroke-width:0.06px">1</text><rect x="6.5" y="26.74" width="17" height="4.2" fill="#0c3ca0"/><text x="27.5" y="31.31" font-size="7.5" style="fill:#222;stroke:#222;stroke-width:0.06px">2</text><rect x="6.5" y="35.86" width="17" height="4.2" fill="#76ce1c"/><text x="27.5" y="40.44" font-size="7.5" style="fill:#222;stroke:#222;stroke-width:0.06px">3</text><rect x="6.5" y="44.98" width="17" height="4.2" fill="#f0ac1c"/><text x="27.5" y="49.55" font-size="7.5" style="fill:#222;stroke:#222;stroke-width:0.06px">4</text><rect x="6.5" y="54.10" width="17" height="4.2" fill="#de2818"/><text x="27.5" y="58.67" font-size="7.5" style="fill:#222;stroke:#222;stroke-width:0.06px">5</text>
</svg>
<text class="t" x="134.7" y="261.2" text-anchor="end">400</text>
<text class="t" x="134.7" y="305.8" text-anchor="end">350</text>
<text class="t" x="134.7" y="350.3" text-anchor="end">300</text>
<text class="t" x="134.7" y="394.9" text-anchor="end">250</text>
<text class="t" x="148.3" y="411.0" text-anchor="middle">300</text>
<text class="t" x="202.6" y="411.0" text-anchor="middle">400</text>
<text class="t" x="256.9" y="411.0" text-anchor="middle">500</text>
<svg x="142.5" y="256.1" width="135.7" height="133.7" viewBox="0 0 135.7 133.7" overflow="hidden">
<rect x="-2" y="-2" width="139.7" height="137.7" fill="#22ca0a"/><g transform="translate(-2.50 -2.10) scale(0.29661)"><path d="M15,440L22,415L40,395L60,360L95,305L122,262L136,238L150,252L165,250L182,262L192,285L200,305L202,340L210,365L222,400L236,425L246,455L222,470L205,445L190,415L175,405L163,425L155,470L20,470Z" fill="#16a830" filter="url(#z3)"/><ellipse cx="240" cy="420" rx="6" ry="12" fill="#16a830" filter="url(#z3)"/><ellipse cx="275" cy="430" rx="5" ry="10" fill="#16a830" filter="url(#z3)"/><ellipse cx="330" cy="440" rx="6" ry="8" fill="#16a830" filter="url(#z3)"/><ellipse cx="370" cy="400" rx="5" ry="10" fill="#16a830" filter="url(#z3)"/><ellipse cx="395" cy="410" rx="5" ry="9" fill="#16a830" filter="url(#z3)"/><ellipse cx="435" cy="410" rx="9" ry="8" fill="#16a830" filter="url(#z3)"/><ellipse cx="445" cy="265" rx="4" ry="9" fill="#16a830" filter="url(#z3)"/><ellipse cx="448" cy="130" rx="4" ry="10" fill="#16a830" filter="url(#z3)"/><ellipse cx="300" cy="370" rx="4" ry="8" fill="#16a830" filter="url(#z3)"/><ellipse cx="40" cy="420" rx="8" ry="6" fill="#16a830" filter="url(#z3)"/><ellipse cx="195" cy="190" rx="5" ry="9" fill="#9ee010" filter="url(#z3)" transform="rotate(25 195 190)"/><ellipse cx="268" cy="410" rx="9" ry="4" fill="#c8ea10" filter="url(#z3)" transform="rotate(-15 268 410)"/><ellipse cx="110" cy="350" rx="88" ry="31" fill="#0e8a64" filter="url(#z4)" transform="rotate(-62 110 350)"/><ellipse cx="112" cy="328" rx="44" ry="12" fill="#1030e0" filter="url(#z3)" transform="rotate(-62 112 328)"/></g><rect x="3.9" y="2.3" width="39.4" height="49.8" fill="#fff"/><rect x="6.199999999999999" y="7.10" width="16.8" height="4.2" fill="#36086c"/><text x="27.4" y="11.67" font-size="7.5" style="fill:#222;stroke:#222;stroke-width:0.06px">-1.0</text><rect x="6.199999999999999" y="16.20" width="16.8" height="4.2" fill="#0000a0"/><text x="27.4" y="20.77" font-size="7.5" style="fill:#222;stroke:#222;stroke-width:0.06px">-0.5</text><rect x="6.199999999999999" y="25.30" width="16.8" height="4.2" fill="#12a33a"/><text x="27.4" y="29.88" font-size="7.5" style="fill:#222;stroke:#222;stroke-width:0.06px">0.0</text><rect x="6.199999999999999" y="34.40" width="16.8" height="4.2" fill="#ffd21e"/><text x="27.4" y="38.98" font-size="7.5" style="fill:#222;stroke:#222;stroke-width:0.06px">0.5</text><rect x="6.199999999999999" y="43.50" width="16.8" height="4.2" fill="#e2301c"/><text x="27.4" y="48.07" font-size="7.5" style="fill:#222;stroke:#222;stroke-width:0.06px">1.0</text>
</svg>
<text class="t" x="312.5" y="261.2" text-anchor="end">400</text>
<text class="t" x="312.5" y="305.8" text-anchor="end">350</text>
<text class="t" x="312.5" y="350.3" text-anchor="end">300</text>
<text class="t" x="312.5" y="394.9" text-anchor="end">250</text>
<text class="t" x="326.1" y="411.0" text-anchor="middle">300</text>
<text class="t" x="380.0" y="411.0" text-anchor="middle">400</text>
<text class="t" x="433.9" y="411.0" text-anchor="middle">500</text>
<svg x="320.3" y="256.1" width="134.8" height="133.7" viewBox="0 0 134.8 133.7" overflow="hidden">
<rect x="-2" y="-2" width="138.8" height="137.7" fill="#22ca0a"/><g transform="translate(-2.30 -2.10) scale(0.29661)"><path d="M170.0,500.0C63.3,466.7 156.7,440.0 180.0,400.0C203.3,360.0 193.3,390.0 240.0,380.0C286.7,370.0 266.7,380.0 320.0,370.0C373.3,360.0 360.0,373.3 400.0,350.0C440.0,326.7 420.0,333.3 440.0,300.0C460.0,266.7 440.0,266.7 460.0,250.0C480.0,233.3 486.7,166.7 500.0,250.0C513.3,333.3 610.0,416.7 500.0,500.0C390.0,583.3 276.7,533.3 170.0,500.0Z" fill="#1eb41c" filter="url(#z8)"/><path d="M108,278L268,20L300,10L350,14L388,50L402,100L398,200L382,300L350,350L290,366L240,380L185,374L150,332Z" fill="#62d40c" filter="url(#z4)"/><path d="M120,274L240,62L268,26L310,24L342,55L354,100L338,180L312,260L297,340L240,364L180,352L155,312Z" fill="#a8e60a" filter="url(#z3)"/><path d="M238,92L260,62L282,66L292,100L286,170L268,204L258,250L238,290L256,330L272,346L240,350L205,312L168,292L158,264L200,190L226,150Z" fill="#f8f400" filter="url(#z4)"/><rect x="300" y="40" width="5" height="230" fill="#cdee10" filter="url(#z3)" opacity="0.8"/><rect x="330" y="30" width="4" height="200" fill="#b8e80c" filter="url(#z3)" opacity="0.8"/><rect x="215" y="150" width="5" height="120" fill="#ffff20" filter="url(#z3)" opacity="0.8"/><rect x="245" y="95" width="5" height="130" fill="#ffff20" filter="url(#z3)" opacity="0.8"/><rect x="272" y="200" width="4" height="120" fill="#e0f010" filter="url(#z3)" opacity="0.8"/><rect x="360" y="60" width="3" height="220" fill="#7ad80c" filter="url(#z3)" opacity="0.8"/><rect x="190" y="230" width="4" height="90" fill="#e8f414" filter="url(#z3)" opacity="0.8"/><path d="M12.0,480.0C-41.3,460.0 5.0,465.0 18.0,420.0C31.0,375.0 27.7,381.0 51.0,345.0C74.3,309.0 65.0,326.3 88.0,312.0C111.0,297.7 96.0,298.7 120.0,302.0C144.0,305.3 141.7,307.7 160.0,322.0C178.3,336.3 167.7,319.0 175.0,345.0C182.3,371.0 181.0,355.0 182.0,400.0C183.0,445.0 234.7,453.3 178.0,480.0C121.3,506.7 65.3,500.0 12.0,480.0Z" fill="#16a82c" filter="url(#z4)"/><path d="M30,410L112,280L128,290L60,400L40,430Z" fill="#16a82c" filter="url(#z3)"/><path d="M37.0,425.0C32.0,396.3 34.3,408.3 45.0,380.0C55.7,351.7 50.7,358.3 69.0,340.0C87.3,321.7 76.3,327.7 100.0,325.0C123.7,322.3 122.7,327.0 140.0,332.0C157.3,337.0 143.7,324.0 152.0,340.0C160.3,356.0 162.0,351.7 165.0,380.0C168.0,408.3 165.3,398.3 161.0,425.0C156.7,451.7 185.7,446.3 152.0,460.0C118.3,473.7 98.3,477.7 60.0,466.0C21.7,454.3 42.0,453.7 37.0,425.0Z" fill="#0808dc" filter="url(#z3)"/><ellipse cx="98" cy="403" rx="32" ry="30" fill="#0000b0" filter="url(#z6)"/><ellipse cx="310" cy="285" rx="6" ry="7" fill="#2cc40e" filter="url(#z3)"/><ellipse cx="359" cy="379" rx="6" ry="9" fill="#12983a" filter="url(#z3)"/><ellipse cx="432" cy="315" rx="6" ry="7" fill="#8ede0c" filter="url(#z3)"/><ellipse cx="358" cy="394" rx="3" ry="5" fill="#12983a" filter="url(#z3)"/><ellipse cx="307" cy="399" rx="5" ry="12" fill="#12983a" filter="url(#z3)"/><ellipse cx="366" cy="224" rx="5" ry="9" fill="#18a830" filter="url(#z3)"/><ellipse cx="395" cy="266" rx="3" ry="5" fill="#12983a" filter="url(#z3)"/><ellipse cx="296" cy="400" rx="3" ry="5" fill="#8ede0c" filter="url(#z3)"/><ellipse cx="420" cy="60" rx="3" ry="12" fill="#12983a" filter="url(#z3)"/><ellipse cx="289" cy="345" rx="3" ry="7" fill="#8ede0c" filter="url(#z3)"/><ellipse cx="401" cy="168" rx="5" ry="9" fill="#12983a" filter="url(#z3)"/><ellipse cx="441" cy="114" rx="3" ry="5" fill="#12983a" filter="url(#z3)"/><ellipse cx="314" cy="256" rx="6" ry="7" fill="#8ede0c" filter="url(#z3)"/><ellipse cx="458" cy="369" rx="6" ry="5" fill="#8ede0c" filter="url(#z3)"/><ellipse cx="294" cy="458" rx="5" ry="9" fill="#12983a" filter="url(#z3)"/><ellipse cx="461" cy="68" rx="6" ry="5" fill="#12983a" filter="url(#z3)"/><ellipse cx="354" cy="394" rx="3" ry="5" fill="#8ede0c" filter="url(#z3)"/><ellipse cx="451" cy="254" rx="6" ry="7" fill="#12983a" filter="url(#z3)"/><ellipse cx="359" cy="185" rx="4" ry="7" fill="#8ede0c" filter="url(#z3)"/><ellipse cx="338" cy="336" rx="6" ry="5" fill="#8ede0c" filter="url(#z3)"/><ellipse cx="196" cy="447" rx="6" ry="9" fill="#12983a" filter="url(#z3)"/><ellipse cx="302" cy="424" rx="5" ry="7" fill="#8ede0c" filter="url(#z3)"/><ellipse cx="442" cy="453" rx="4" ry="12" fill="#12983a" filter="url(#z3)"/><ellipse cx="340" cy="403" rx="5" ry="7" fill="#12983a" filter="url(#z3)"/><ellipse cx="439" cy="142" rx="3" ry="9" fill="#12983a" filter="url(#z3)"/><ellipse cx="332" cy="451" rx="5" ry="7" fill="#12983a" filter="url(#z3)"/><ellipse cx="432" cy="454" rx="3" ry="5" fill="#12983a" filter="url(#z3)"/><ellipse cx="351" cy="90" rx="5" ry="9" fill="#18a830" filter="url(#z3)"/><ellipse cx="197" cy="436" rx="5" ry="9" fill="#12983a" filter="url(#z3)"/><ellipse cx="207" cy="405" rx="6" ry="5" fill="#12983a" filter="url(#z3)"/><ellipse cx="358" cy="214" rx="3" ry="5" fill="#18a830" filter="url(#z3)"/><ellipse cx="276" cy="436" rx="6" ry="12" fill="#8ede0c" filter="url(#z3)"/><ellipse cx="417" cy="94" rx="5" ry="5" fill="#12983a" filter="url(#z3)"/><ellipse cx="378" cy="260" rx="5" ry="5" fill="#2cc40e" filter="url(#z3)"/><ellipse cx="354" cy="268" rx="6" ry="12" fill="#c8ec10" filter="url(#z3)"/><ellipse cx="432" cy="191" rx="4" ry="12" fill="#18a830" filter="url(#z3)"/><ellipse cx="408" cy="363" rx="4" ry="12" fill="#12983a" filter="url(#z3)"/><ellipse cx="246" cy="430" rx="4" ry="7" fill="#12983a" filter="url(#z3)"/><ellipse cx="323" cy="397" rx="3" ry="9" fill="#12983a" filter="url(#z3)"/><ellipse cx="413" cy="105" rx="5" ry="7" fill="#8ede0c" filter="url(#z3)"/><ellipse cx="415" cy="214" rx="5" ry="12" fill="#8ede0c" filter="url(#z3)"/><ellipse cx="274" cy="393" rx="3" ry="9" fill="#18a830" filter="url(#z3)"/><ellipse cx="404" cy="68" rx="6" ry="12" fill="#12983a" filter="url(#z3)"/><ellipse cx="238" cy="369" rx="4" ry="7" fill="#18a830" filter="url(#z3)"/><ellipse cx="406" cy="456" rx="6" ry="5" fill="#12983a" filter="url(#z3)"/><ellipse cx="360" cy="323" rx="3" ry="7" fill="#18a830" filter="url(#z3)"/><ellipse cx="316" cy="347" rx="4" ry="9" fill="#12983a" filter="url(#z3)"/><ellipse cx="401" cy="277" rx="6" ry="7" fill="#12983a" filter="url(#z3)"/><ellipse cx="209" cy="435" rx="4" ry="12" fill="#8ede0c" filter="url(#z3)"/><ellipse cx="311" cy="311" rx="6" ry="9" fill="#12983a" filter="url(#z3)"/><ellipse cx="313" cy="322" rx="3" ry="5" fill="#12983a" filter="url(#z3)"/><ellipse cx="244" cy="422" rx="5" ry="9" fill="#12983a" filter="url(#z3)"/><ellipse cx="258" cy="349" rx="5" ry="5" fill="#12983a" filter="url(#z3)"/><ellipse cx="440" cy="148" rx="6" ry="5" fill="#12983a" filter="url(#z3)"/><ellipse cx="403" cy="116" rx="6" ry="12" fill="#12983a" filter="url(#z3)"/><ellipse cx="345" cy="337" rx="6" ry="9" fill="#12983a" filter="url(#z3)"/><ellipse cx="415" cy="286" rx="5" ry="9" fill="#12983a" filter="url(#z3)"/><ellipse cx="371" cy="444" rx="5" ry="7" fill="#12983a" filter="url(#z3)"/><ellipse cx="453" cy="271" rx="4" ry="12" fill="#8ede0c" filter="url(#z3)"/><ellipse cx="333" cy="262" rx="3" ry="5" fill="#2cc40e" filter="url(#z3)"/><ellipse cx="407" cy="286" rx="3" ry="7" fill="#8ede0c" filter="url(#z3)"/><ellipse cx="300" cy="445" rx="5" ry="7" fill="#8ede0c" filter="url(#z3)"/><ellipse cx="305" cy="388" rx="5" ry="5" fill="#8ede0c" filter="url(#z3)"/><ellipse cx="441" cy="112" rx="3" ry="7" fill="#12983a" filter="url(#z3)"/><ellipse cx="264" cy="351" rx="6" ry="5" fill="#12983a" filter="url(#z3)"/><ellipse cx="323" cy="294" rx="4" ry="12" fill="#c8ec10" filter="url(#z3)"/><ellipse cx="414" cy="308" rx="4" ry="7" fill="#12983a" filter="url(#z3)"/><ellipse cx="421" cy="306" rx="4" ry="9" fill="#12983a" filter="url(#z3)"/><ellipse cx="435" cy="187" rx="4" ry="7" fill="#18a830" filter="url(#z3)"/><ellipse cx="401" cy="138" rx="4" ry="7" fill="#12983a" filter="url(#z3)"/><ellipse cx="446" cy="278" rx="4" ry="12" fill="#12983a" filter="url(#z3)"/><ellipse cx="359" cy="381" rx="4" ry="9" fill="#12983a" filter="url(#z3)"/></g><rect x="3.9" y="2.3" width="39.4" height="49.8" fill="#fff"/><rect x="6.199999999999999" y="7.10" width="16.8" height="4.2" fill="#36086c"/><text x="27.4" y="11.67" font-size="7.5" style="fill:#222;stroke:#222;stroke-width:0.06px">-1.0</text><rect x="6.199999999999999" y="16.20" width="16.8" height="4.2" fill="#0000a0"/><text x="27.4" y="20.77" font-size="7.5" style="fill:#222;stroke:#222;stroke-width:0.06px">-0.5</text><rect x="6.199999999999999" y="25.30" width="16.8" height="4.2" fill="#12a33a"/><text x="27.4" y="29.88" font-size="7.5" style="fill:#222;stroke:#222;stroke-width:0.06px">0.0</text><rect x="6.199999999999999" y="34.40" width="16.8" height="4.2" fill="#ffd21e"/><text x="27.4" y="38.98" font-size="7.5" style="fill:#222;stroke:#222;stroke-width:0.06px">0.5</text><rect x="6.199999999999999" y="43.50" width="16.8" height="4.2" fill="#e2301c"/><text x="27.4" y="48.07" font-size="7.5" style="fill:#222;stroke:#222;stroke-width:0.06px">1.0</text>
</svg>
<text class="t" x="484.1" y="261.2" text-anchor="end">400</text>
<text class="t" x="484.1" y="305.8" text-anchor="end">350</text>
<text class="t" x="484.1" y="350.3" text-anchor="end">300</text>
<text class="t" x="484.1" y="394.9" text-anchor="end">250</text>
<text class="t" x="497.7" y="411.0" text-anchor="middle">300</text>
<text class="t" x="552.1" y="411.0" text-anchor="middle">400</text>
<text class="t" x="606.5" y="411.0" text-anchor="middle">500</text>
<svg x="491.9" y="256.1" width="135.9" height="133.7" viewBox="0 0 135.9 133.7" overflow="hidden">
<rect x="-2" y="-2" width="139.9" height="137.7" fill="#22ca0a"/><g transform="translate(-2.90 -2.10) scale(0.29661)"><path d="M98.0,294.0C85.7,283.3 95.7,298.0 113.0,270.0C130.3,242.0 122.7,250.0 150.0,210.0C177.3,170.0 171.0,188.3 195.0,150.0C219.0,111.7 210.3,128.3 222.0,95.0C233.7,61.7 217.3,73.0 230.0,50.0C242.7,27.0 236.7,36.7 260.0,26.0C283.3,15.3 276.7,24.7 300.0,18.0C323.3,11.3 308.3,10.0 330.0,6.0C351.7,2.0 345.7,-1.3 365.0,6.0C384.3,13.3 375.7,5.0 388.0,28.0C400.3,51.0 390.0,44.3 402.0,75.0C414.0,105.7 408.7,95.0 424.0,120.0C439.3,145.0 435.3,120.0 448.0,150.0C460.7,180.0 454.7,160.0 462.0,210.0C469.3,260.0 460.7,243.3 470.0,300.0C479.3,356.7 483.3,316.7 490.0,380.0C496.7,443.3 581.7,453.3 490.0,490.0C398.3,526.7 295.0,510.0 215.0,490.0C135.0,470.0 221.7,458.3 250.0,430.0C278.3,401.7 273.3,418.3 300.0,405.0C326.7,391.7 326.7,408.3 330.0,390.0C333.3,371.7 330.0,375.0 310.0,350.0C290.0,325.0 306.7,331.7 270.0,315.0C233.3,298.3 240.0,304.3 200.0,300.0C160.0,295.7 184.0,304.0 150.0,302.0C116.0,300.0 110.3,304.7 98.0,294.0Z" fill="#62d60c" filter="url(#z3)"/><path d="M105.0,292.0C92.7,286.0 98.0,304.7 113.0,280.0C128.0,255.3 122.7,258.7 150.0,218.0C177.3,177.3 170.0,198.0 195.0,158.0C220.0,118.0 212.3,131.3 225.0,98.0C237.7,64.7 220.3,78.7 233.0,58.0C245.7,37.3 240.7,46.0 263.0,36.0C285.3,26.0 277.7,34.3 300.0,28.0C322.3,21.7 310.7,20.7 330.0,17.0C349.3,13.3 341.3,11.3 358.0,17.0C374.7,22.7 368.0,13.7 380.0,34.0C392.0,54.3 382.0,48.7 394.0,78.0C406.0,107.3 401.3,97.3 416.0,122.0C430.7,146.7 428.0,122.7 438.0,152.0C448.0,181.3 443.3,172.3 446.0,210.0C448.7,247.7 451.3,235.0 446.0,265.0C440.7,295.0 445.3,282.3 430.0,300.0C414.7,317.7 426.7,310.7 400.0,318.0C373.3,325.3 383.3,324.0 350.0,322.0C316.7,320.0 333.3,317.7 300.0,312.0C266.7,306.3 283.3,309.7 250.0,305.0C216.7,300.3 233.3,300.3 200.0,298.0C166.7,295.7 181.7,300.0 150.0,298.0C118.3,296.0 117.3,298.0 105.0,292.0Z" fill="#9ce40a" filter="url(#z2)"/><path d="M235.0,490.0C159.0,473.3 240.3,463.3 262.0,440.0C283.7,416.7 269.7,428.7 300.0,420.0C330.3,411.3 315.3,419.0 353.0,414.0C390.7,409.0 377.0,414.7 413.0,405.0C449.0,395.3 435.3,393.3 461.0,385.0C486.7,376.7 480.3,345.0 490.0,380.0C499.7,415.0 575.0,453.3 490.0,490.0C405.0,526.7 311.0,506.7 235.0,490.0Z" fill="#9ce40a" filter="url(#z3)"/><path d="M245.0,490.0C225.0,480.7 251.7,473.3 270.0,462.0C288.3,450.7 283.3,453.3 300.0,456.0C316.7,458.7 310.0,458.7 320.0,470.0C330.0,481.3 355.0,483.3 330.0,490.0C305.0,496.7 265.0,499.3 245.0,490.0Z" fill="#f4f000" filter="url(#z3)"/><path d="M300.0,335.0C326.7,321.7 313.3,335.0 350.0,340.0C386.7,345.0 383.3,338.3 410.0,350.0C436.7,361.7 433.3,360.0 430.0,375.0C426.7,390.0 430.0,386.7 400.0,395.0C370.0,403.3 376.7,395.0 340.0,400.0C303.3,405.0 313.3,416.7 290.0,410.0C266.7,403.3 266.7,405.0 270.0,380.0C273.3,355.0 273.3,348.3 300.0,335.0Z" fill="#30c40c" filter="url(#z6)"/><path d="M240.0,318.0C263.3,304.7 264.0,324.7 300.0,340.0C336.0,355.3 340.7,348.7 348.0,364.0C355.3,379.3 345.3,374.0 322.0,386.0C298.7,398.0 302.0,390.3 278.0,400.0C254.0,409.7 266.0,421.7 250.0,415.0C234.0,408.3 233.3,412.3 230.0,380.0C226.7,347.7 216.7,331.3 240.0,318.0Z" fill="#18ac2c" filter="url(#z3)"/><path d="M120.0,290.0C109.3,274.0 120.7,278.0 133.0,250.0C145.3,222.0 138.3,237.7 157.0,206.0C175.7,174.3 164.7,186.3 189.0,155.0C213.3,123.7 209.0,133.0 230.0,112.0C251.0,91.0 237.0,101.3 252.0,92.0C267.0,82.7 260.3,83.3 275.0,84.0C289.7,84.7 283.7,82.0 296.0,94.0C308.3,106.0 294.0,99.7 312.0,120.0C330.0,140.3 334.0,126.3 350.0,155.0C366.0,183.7 358.3,172.3 360.0,206.0C361.7,239.7 362.3,228.7 355.0,256.0C347.7,283.3 359.7,272.7 338.0,288.0C316.3,303.3 327.7,298.0 290.0,302.0C252.3,306.0 266.7,301.3 225.0,300.0C183.3,298.7 200.0,301.3 165.0,298.0C130.0,294.7 130.7,306.0 120.0,290.0Z" fill="#fbf600" filter="url(#z2)"/><path d="M160.0,276.0C150.3,266.3 163.0,279.3 171.0,256.0C179.0,232.7 168.7,239.7 184.0,206.0C199.3,172.3 195.3,185.3 217.0,155.0C238.7,124.7 232.0,132.0 249.0,115.0C266.0,98.0 255.7,104.0 268.0,104.0C280.3,104.0 276.0,98.0 286.0,115.0C296.0,132.0 285.7,124.7 298.0,155.0C310.3,185.3 319.0,172.3 323.0,206.0C327.0,239.7 321.0,231.3 310.0,256.0C299.0,280.7 308.3,269.7 290.0,280.0C271.7,290.3 285.0,285.3 255.0,287.0C225.0,288.7 231.7,288.7 200.0,285.0C168.3,281.3 169.7,285.7 160.0,276.0Z" fill="#ffd400" filter="url(#z2)"/><path d="M200.0,262.0C194.0,251.3 201.3,258.7 207.0,240.0C212.7,221.3 208.7,232.7 217.0,206.0C225.3,179.3 221.0,182.7 232.0,160.0C243.0,137.3 238.7,146.0 250.0,138.0C261.3,130.0 256.0,130.3 266.0,136.0C276.0,141.7 273.0,131.7 280.0,155.0C287.0,178.3 288.7,174.3 287.0,206.0C285.3,237.7 284.7,228.7 275.0,250.0C265.3,271.3 274.7,262.7 258.0,270.0C241.3,277.3 244.3,274.7 225.0,272.0C205.7,269.3 206.0,272.7 200.0,262.0Z" fill="#ffb400" filter="url(#z3)"/><ellipse cx="249" cy="206" rx="22" ry="40" fill="#ff9400" filter="url(#z3)" transform="rotate(8 249 206)"/><ellipse cx="249" cy="208" rx="11" ry="22" fill="#ff7c00" filter="url(#z3)" transform="rotate(8 249 208)"/><path d="M0.0,490.0C-54.0,470.0 -2.0,466.3 8.0,430.0C18.0,393.7 15.0,410.0 30.0,381.0C45.0,352.0 36.7,365.7 53.0,343.0C69.3,320.3 56.7,326.0 79.0,313.0C101.3,300.0 88.7,306.3 120.0,304.0C151.3,301.7 140.3,301.7 173.0,306.0C205.7,310.3 193.0,307.0 218.0,317.0C243.0,327.0 234.3,319.7 248.0,336.0C261.7,352.3 258.0,343.7 259.0,366.0C260.0,388.3 262.3,380.7 251.0,403.0C239.7,425.3 243.7,415.3 225.0,433.0C206.3,450.7 213.3,437.0 195.0,456.0C176.7,475.0 235.0,478.7 170.0,490.0C105.0,501.3 54.0,510.0 0.0,490.0Z" fill="#0404dc" filter="url(#z2)"/><path d="M10.0,490.0C-16.7,468.3 14.7,449.0 20.0,425.0C25.3,401.0 15.0,440.3 26.0,418.0C37.0,395.7 34.0,386.7 53.0,358.0C72.0,329.3 58.0,343.3 83.0,332.0C108.0,320.7 95.7,324.0 128.0,324.0C160.3,324.0 150.0,323.0 180.0,332.0C210.0,341.0 201.7,334.7 218.0,351.0C234.3,367.3 231.7,358.7 229.0,381.0C226.3,403.3 226.3,397.0 210.0,418.0C193.7,439.0 205.0,430.7 180.0,444.0C155.0,457.3 161.7,442.7 135.0,458.0C108.3,473.3 141.7,479.3 100.0,490.0C58.3,500.7 36.7,511.7 10.0,490.0Z" fill="#3a0a90" filter="url(#z3)"/></g><rect x="3.8" y="2.3" width="35" height="49.8" fill="#fff"/><rect x="6.1" y="7.10" width="16.8" height="4.2" fill="#36086c"/><text x="28.1" y="11.67" font-size="7.5" style="fill:#222;stroke:#222;stroke-width:0.06px">-8</text><rect x="6.1" y="16.20" width="16.8" height="4.2" fill="#0000a0"/><text x="28.1" y="20.77" font-size="7.5" style="fill:#222;stroke:#222;stroke-width:0.06px">-4</text><rect x="6.1" y="25.30" width="16.8" height="4.2" fill="#12a33a"/><text x="28.1" y="29.88" font-size="7.5" style="fill:#222;stroke:#222;stroke-width:0.06px">0</text><rect x="6.1" y="34.40" width="16.8" height="4.2" fill="#ffd21e"/><text x="28.1" y="38.98" font-size="7.5" style="fill:#222;stroke:#222;stroke-width:0.06px">4</text><rect x="6.1" y="43.50" width="16.8" height="4.2" fill="#e2301c"/><text x="28.1" y="48.07" font-size="7.5" style="fill:#222;stroke:#222;stroke-width:0.06px">8</text>
</svg>
<text class="t" x="657.5" y="261.2" text-anchor="end">400</text>
<text class="t" x="657.5" y="305.8" text-anchor="end">350</text>
<text class="t" x="657.5" y="350.3" text-anchor="end">300</text>
<text class="t" x="657.5" y="394.9" text-anchor="end">250</text>
<text class="t" x="671.1" y="411.0" text-anchor="middle">300</text>
<text class="t" x="725.1" y="411.0" text-anchor="middle">400</text>
<text class="t" x="779.0" y="411.0" text-anchor="middle">500</text>
<svg x="665.3" y="256.1" width="134.9" height="133.7" viewBox="0 0 134.9 133.7" overflow="hidden">
<rect x="-2" y="-2" width="138.9" height="137.7" fill="#22ca0a"/><g transform="translate(-2.30 -2.10) scale(0.29661)"><path d="M0.0,500.0C-100.0,488.0 -4.0,458.4 0.0,440.0C4.0,421.6 14.4,417.6 20.0,408.0C25.6,398.4 23.0,400.8 28.0,392.0C33.0,383.2 36.4,378.2 45.0,364.0C53.6,349.8 56.0,346.0 71.0,321.0C86.0,296.0 97.4,272.2 120.0,239.0C142.6,205.8 162.0,188.6 184.0,155.0C206.0,121.4 214.4,98.0 230.0,71.0C245.6,44.0 253.0,36.2 262.0,20.0C271.0,3.8 241.4,-4.0 275.0,-10.0C308.6,-16.0 396.0,-20.0 430.0,-10.0C464.0,0.0 431.0,26.0 445.0,40.0C459.0,54.0 489.0,-32.0 500.0,60.0C511.0,152.0 600.0,412.0 500.0,500.0C400.0,588.0 100.0,512.0 0.0,500.0Z" fill="#6cd80c" filter="url(#z2)"/><path d="M15.0,500.0C-80.0,486.0 12.4,450.0 15.0,430.0C17.6,410.0 25.0,407.6 28.0,400.0C31.0,392.4 26.2,399.2 30.0,392.0C33.8,384.8 38.4,378.2 47.0,364.0C55.6,349.8 57.6,346.0 73.0,321.0C88.4,296.0 101.0,272.2 124.0,239.0C147.0,205.8 166.0,188.6 188.0,155.0C210.0,121.4 218.0,98.0 234.0,71.0C250.0,44.0 254.8,35.2 268.0,20.0C281.2,4.8 286.6,-1.0 300.0,-5.0C313.4,-9.0 321.2,-15.2 335.0,0.0C348.8,15.2 356.8,40.0 369.0,71.0C381.2,102.0 386.8,121.4 396.0,155.0C405.2,188.6 409.4,205.2 415.0,239.0C420.6,272.8 413.0,290.2 424.0,324.0C435.0,357.8 456.8,372.8 470.0,408.0C483.2,443.2 581.0,481.6 490.0,500.0C399.0,518.4 110.0,514.0 15.0,500.0Z" fill="#a8e60a" filter="url(#z2)"/><path d="M62.0,500.0C-9.2,486.0 67.4,449.6 64.0,430.0C60.6,410.4 51.0,410.0 45.0,402.0C39.0,394.0 33.2,397.6 34.0,390.0C34.8,382.4 40.8,377.8 49.0,364.0C57.2,350.2 59.2,346.0 75.0,321.0C90.8,296.0 103.0,272.2 128.0,239.0C153.0,205.8 178.0,181.8 200.0,155.0C222.0,128.2 224.8,121.8 238.0,105.0C251.2,88.2 257.4,82.0 266.0,71.0C274.6,60.0 275.2,50.0 281.0,50.0C286.8,50.0 289.6,62.0 295.0,71.0C300.4,80.0 302.0,84.2 308.0,95.0C314.0,105.8 318.4,113.0 325.0,125.0C331.6,137.0 334.0,132.2 341.0,155.0C348.0,177.8 355.4,205.2 360.0,239.0C364.6,272.8 354.8,290.2 364.0,324.0C373.2,357.8 394.8,372.8 406.0,408.0C417.2,443.2 488.8,481.6 420.0,500.0C351.2,518.4 133.2,514.0 62.0,500.0Z" fill="#fcf400" filter="url(#z2)"/><path d="M95.0,500.0C39.0,486.0 101.6,449.2 95.0,430.0C88.4,410.8 73.0,412.0 62.0,404.0C51.0,396.0 42.0,398.0 40.0,390.0C38.0,382.0 44.4,377.8 52.0,364.0C59.6,350.2 62.0,346.0 78.0,321.0C94.0,296.0 106.4,272.2 132.0,239.0C157.6,205.8 183.6,180.8 206.0,155.0C228.4,129.2 233.6,110.0 244.0,110.0C254.4,110.0 251.4,129.2 258.0,155.0C264.6,180.8 266.0,205.2 277.0,239.0C288.0,272.8 296.4,290.2 313.0,324.0C329.6,357.8 347.6,372.8 360.0,408.0C372.4,443.2 428.0,481.6 375.0,500.0C322.0,518.4 151.0,514.0 95.0,500.0Z" fill="#ffcc00" filter="url(#z3)"/><path d="M48.0,388.0C43.3,376.7 45.0,386.3 56.0,364.0C67.0,341.7 54.3,361.7 81.0,321.0C107.7,280.3 94.7,296.3 136.0,242.0C177.3,187.7 174.3,192.0 205.0,158.0C235.7,124.0 216.3,139.3 228.0,140.0C239.7,140.7 241.0,135.0 240.0,160.0C239.0,185.0 223.3,181.7 225.0,215.0C226.7,248.3 240.0,223.7 245.0,260.0C250.0,296.3 250.0,290.7 240.0,324.0C230.0,357.3 235.0,339.7 215.0,360.0C195.0,380.3 211.7,373.3 180.0,385.0C148.3,396.7 156.7,390.7 120.0,395.0C83.3,399.3 94.0,400.3 70.0,398.0C46.0,395.7 52.7,399.3 48.0,388.0Z" fill="#ffb000" filter="url(#z6)"/><path d="M60.0,380.0C51.3,362.3 60.7,365.3 84.0,322.0C107.3,278.7 104.7,277.3 130.0,250.0C155.3,222.7 141.7,236.0 160.0,240.0C178.3,244.0 177.7,238.7 185.0,262.0C192.3,285.3 190.3,280.7 182.0,310.0C173.7,339.3 184.0,328.3 160.0,350.0C136.0,371.7 143.3,365.0 110.0,375.0C76.7,385.0 68.7,397.7 60.0,380.0Z" fill="#ff9c00" filter="url(#z6)"/><path d="M150.0,500.0C91.7,480.0 140.0,466.0 170.0,440.0C200.0,414.0 196.7,425.3 240.0,422.0C283.3,418.7 268.3,417.3 300.0,430.0C331.7,442.7 320.0,436.7 335.0,460.0C350.0,483.3 406.7,486.7 345.0,500.0C283.3,513.3 208.3,520.0 150.0,500.0Z" fill="#ffb000" filter="url(#z6)"/><path d="M52.0,378.0C50.0,366.0 51.3,372.0 62.0,352.0C72.7,332.0 67.3,342.7 84.0,318.0C100.7,293.3 93.3,303.3 112.0,278.0C130.7,252.7 122.3,263.0 140.0,242.0C157.7,221.0 151.7,220.7 165.0,215.0C178.3,209.3 178.3,210.0 180.0,225.0C181.7,240.0 180.0,235.0 170.0,260.0C160.0,285.0 165.0,273.3 150.0,300.0C135.0,326.7 143.3,316.0 125.0,340.0C106.7,364.0 114.0,356.0 95.0,372.0C76.0,388.0 82.3,386.0 68.0,388.0C53.7,390.0 54.0,390.0 52.0,378.0Z" fill="#ff8a00" filter="url(#z6)"/><path d="M60.0,366.0C62.0,354.0 62.0,358.0 72.0,340.0C82.0,322.0 76.7,331.3 90.0,312.0C103.3,292.7 98.7,298.7 112.0,282.0C125.3,265.3 120.0,266.7 130.0,262.0C140.0,257.3 140.7,258.0 142.0,268.0C143.3,278.0 142.0,274.7 134.0,292.0C126.0,309.3 130.0,301.3 118.0,320.0C106.0,338.7 111.3,331.3 98.0,348.0C84.7,364.7 88.7,360.7 78.0,370.0C67.3,379.3 72.0,377.3 66.0,376.0C60.0,374.7 58.0,378.0 60.0,366.0Z" fill="#ff6a00" filter="url(#z5)"/><path d="M74.0,340.0C74.7,331.3 76.0,334.7 84.0,322.0C92.0,309.3 88.7,313.3 98.0,302.0C107.3,290.7 104.7,290.7 112.0,288.0C119.3,285.3 120.7,285.3 120.0,294.0C119.3,302.7 118.0,300.7 110.0,314.0C102.0,327.3 105.3,322.7 96.0,334.0C86.7,345.3 89.3,346.0 82.0,348.0C74.7,350.0 73.3,348.7 74.0,340.0Z" fill="#f62800" filter="url(#z4)"/><path d="M0.0,500.0C-10.0,483.3 -6.7,473.3 0.0,450.0C6.7,426.7 8.3,430.0 20.0,430.0C31.7,430.0 31.7,426.7 35.0,450.0C38.3,473.3 41.7,483.3 30.0,500.0C18.3,516.7 10.0,516.7 0.0,500.0Z" fill="#3cc80c" filter="url(#z4)"/></g><rect x="3.9" y="2.3" width="39.4" height="49.8" fill="#fff"/><rect x="6.199999999999999" y="7.10" width="16.8" height="4.2" fill="#36086c"/><text x="27.4" y="11.67" font-size="7.5" style="fill:#222;stroke:#222;stroke-width:0.06px">-1.0</text><rect x="6.199999999999999" y="16.20" width="16.8" height="4.2" fill="#0000a0"/><text x="27.4" y="20.77" font-size="7.5" style="fill:#222;stroke:#222;stroke-width:0.06px">-0.5</text><rect x="6.199999999999999" y="25.30" width="16.8" height="4.2" fill="#12a33a"/><text x="27.4" y="29.88" font-size="7.5" style="fill:#222;stroke:#222;stroke-width:0.06px">0.0</text><rect x="6.199999999999999" y="34.40" width="16.8" height="4.2" fill="#ffd21e"/><text x="27.4" y="38.98" font-size="7.5" style="fill:#222;stroke:#222;stroke-width:0.06px">0.5</text><rect x="6.199999999999999" y="43.50" width="16.8" height="4.2" fill="#e2301c"/><text x="27.4" y="48.07" font-size="7.5" style="fill:#222;stroke:#222;stroke-width:0.06px">1.0</text>
</svg>
<text class="t" x="827.7" y="261.2" text-anchor="end">400</text>
<text class="t" x="827.7" y="305.8" text-anchor="end">350</text>
<text class="t" x="827.7" y="350.3" text-anchor="end">300</text>
<text class="t" x="827.7" y="394.9" text-anchor="end">250</text>
<text class="t" x="841.3" y="411.0" text-anchor="middle">300</text>
<text class="t" x="895.0" y="411.0" text-anchor="middle">400</text>
<text class="t" x="948.7" y="411.0" text-anchor="middle">500</text>
<svg x="835.5" y="256.1" width="134.3" height="133.7" viewBox="0 0 134.3 133.7" overflow="hidden">
<rect x="-2" y="-2" width="138.3" height="137.7" fill="#22ca0a"/><g transform="translate(-2.50 -2.10) scale(0.29661)"><path d="M83.0,318.0C78.4,306.2 82.2,285.2 97.0,256.0C111.8,226.8 132.2,205.6 157.0,172.0C181.8,138.4 201.4,113.4 221.0,88.0C240.6,62.6 239.2,59.6 255.0,45.0C270.8,30.4 285.0,26.0 300.0,15.0C315.0,4.0 290.0,-5.0 330.0,-10.0C370.0,-15.0 466.0,-112.0 500.0,-10.0C534.0,92.0 566.0,398.0 500.0,500.0C434.0,602.0 230.0,512.0 170.0,500.0C110.0,488.0 186.0,460.0 200.0,440.0C214.0,420.0 230.0,420.0 240.0,400.0C250.0,380.0 258.0,356.4 250.0,340.0C242.0,323.6 226.0,323.0 200.0,318.0C174.0,313.0 143.4,315.0 120.0,315.0C96.6,315.0 87.6,329.8 83.0,318.0Z" fill="#6cd80c" filter="url(#z2)"/><path d="M88.0,316.0C83.8,304.0 84.6,286.2 99.0,258.0C113.4,229.8 135.0,208.2 160.0,175.0C185.0,141.8 206.0,114.6 224.0,92.0C242.0,69.4 238.8,72.4 250.0,62.0C261.2,51.6 268.0,46.4 280.0,40.0C292.0,33.6 300.0,26.0 310.0,30.0C320.0,34.0 322.0,48.4 330.0,60.0C338.0,71.6 340.0,74.0 350.0,88.0C360.0,102.0 369.8,113.2 380.0,130.0C390.2,146.8 394.0,146.8 401.0,172.0C408.0,197.2 412.2,222.4 415.0,256.0C417.8,289.6 415.0,306.2 415.0,340.0C415.0,373.8 410.0,393.0 415.0,425.0C420.0,457.0 486.0,485.0 440.0,500.0C394.0,515.0 235.2,515.0 185.0,500.0C134.8,485.0 178.0,449.0 189.0,425.0C200.0,401.0 225.2,397.0 240.0,380.0C254.8,363.0 271.0,352.0 263.0,340.0C255.0,328.0 228.6,324.4 200.0,320.0C171.4,315.6 142.4,318.8 120.0,318.0C97.6,317.2 92.2,328.0 88.0,316.0Z" fill="#a8e60a" filter="url(#z2)"/><path d="M95.0,310.0C92.0,298.8 99.0,283.6 115.0,256.0C131.0,228.4 147.4,205.6 175.0,172.0C202.6,138.4 234.4,108.4 253.0,88.0C271.6,67.6 262.4,70.0 268.0,70.0C273.6,70.0 270.6,78.0 281.0,88.0C291.4,98.0 304.2,103.2 320.0,120.0C335.8,136.8 351.2,144.8 360.0,172.0C368.8,199.2 366.0,230.4 364.0,256.0C362.0,281.6 362.8,287.6 350.0,300.0C337.2,312.4 330.0,315.6 300.0,318.0C270.0,320.4 234.0,313.2 200.0,312.0C166.0,310.8 151.0,312.4 130.0,312.0C109.0,311.6 98.0,321.2 95.0,310.0Z" fill="#fcf400" filter="url(#z2)"/><path d="M217.0,425.0C198.7,458.3 110.7,475.0 205.0,500.0C299.3,525.0 401.7,526.7 500.0,500.0C598.3,473.3 513.3,450.0 500.0,420.0C486.7,390.0 488.3,410.7 460.0,410.0C431.7,409.3 448.3,413.0 415.0,418.0C381.7,423.0 398.3,432.7 360.0,425.0C321.7,417.3 333.3,403.3 300.0,395.0C266.7,386.7 287.7,390.0 260.0,400.0C232.3,410.0 235.3,391.7 217.0,425.0Z" fill="#fcf400" filter="url(#z3)"/><path d="M240.0,500.0C200.0,485.0 230.0,475.0 250.0,455.0C270.0,435.0 266.7,443.3 300.0,440.0C333.3,436.7 326.7,425.0 350.0,445.0C373.3,465.0 406.7,481.7 370.0,500.0C333.3,518.3 280.0,515.0 240.0,500.0Z" fill="#ffc000" filter="url(#z5)"/><path d="M105.0,300.0C101.8,290.2 108.0,281.6 124.0,256.0C140.0,230.4 162.8,200.2 185.0,172.0C207.2,143.8 218.0,129.4 235.0,115.0C252.0,100.6 259.0,97.0 270.0,100.0C281.0,103.0 285.0,115.6 290.0,130.0C295.0,144.4 292.2,146.8 295.0,172.0C297.8,197.2 307.0,232.4 304.0,256.0C301.0,279.6 296.8,280.8 280.0,290.0C263.2,299.2 248.0,299.0 220.0,302.0C192.0,305.0 163.0,305.4 140.0,305.0C117.0,304.6 108.2,309.8 105.0,300.0Z" fill="#ffd200" filter="url(#z2)"/><path d="M110.0,292.0C106.7,279.0 102.0,296.0 130.0,256.0C158.0,216.0 157.3,214.7 194.0,172.0C230.7,129.3 217.3,145.3 240.0,128.0C262.7,110.7 248.7,112.7 262.0,120.0C275.3,127.3 272.0,132.7 280.0,150.0C288.0,167.3 289.3,148.7 286.0,172.0C282.7,195.3 285.3,192.0 270.0,220.0C254.7,248.0 263.3,236.0 240.0,256.0C216.7,276.0 233.3,267.0 200.0,280.0C166.7,293.0 170.0,291.0 140.0,295.0C110.0,299.0 113.3,305.0 110.0,292.0Z" fill="#ffb000" filter="url(#z3)"/><path d="M115.0,285.0C106.0,281.7 115.0,280.0 130.0,260.0C145.0,240.0 136.7,248.3 160.0,225.0C183.3,201.7 171.7,210.0 200.0,190.0C228.3,170.0 225.7,165.0 245.0,165.0C264.3,165.0 259.7,170.0 258.0,190.0C256.3,210.0 259.3,205.0 240.0,225.0C220.7,245.0 227.7,235.0 200.0,250.0C172.3,265.0 185.3,258.3 157.0,270.0C128.7,281.7 124.0,288.3 115.0,285.0Z" fill="#ff9400" filter="url(#z4)"/><path d="M110.0,330.0C123.3,302.7 120.0,320.0 140.0,318.0C160.0,316.0 148.3,315.0 170.0,324.0C191.7,333.0 181.7,338.0 205.0,345.0C228.3,352.0 227.7,333.3 240.0,345.0C252.3,356.7 252.0,355.0 242.0,380.0C232.0,405.0 227.7,403.3 210.0,420.0C192.3,436.7 203.7,418.3 189.0,430.0C174.3,441.7 185.7,431.7 166.0,455.0C146.3,478.3 155.3,485.0 130.0,500.0C104.7,515.0 100.0,533.3 90.0,500.0C80.0,466.7 93.3,456.7 100.0,400.0C106.7,343.3 96.7,357.3 110.0,330.0Z" fill="#18ac2c" filter="url(#z3)"/><path d="M0.0,500.0C-39.3,480.3 -0.7,475.7 8.0,441.0C16.7,406.3 14.0,426.0 26.0,396.0C38.0,366.0 29.0,376.0 44.0,351.0C59.0,326.0 48.0,331.0 71.0,321.0C94.0,311.0 84.0,317.3 113.0,321.0C142.0,324.7 133.7,322.0 158.0,332.0C182.3,342.0 174.3,334.7 186.0,351.0C197.7,367.3 197.0,358.7 193.0,381.0C189.0,403.3 186.3,398.3 174.0,418.0C161.7,437.7 168.7,424.3 156.0,440.0C143.3,455.7 146.0,445.0 136.0,465.0C126.0,485.0 171.3,488.3 126.0,500.0C80.7,511.7 39.3,519.7 0.0,500.0Z" fill="#0404dc" filter="url(#z2)"/><path d="M34.0,445.0C31.0,423.0 32.3,421.3 46.0,390.0C59.7,358.7 51.0,366.0 75.0,351.0C99.0,336.0 92.3,342.3 118.0,345.0C143.7,347.7 136.3,347.0 152.0,359.0C167.7,371.0 165.7,362.3 165.0,381.0C164.3,399.7 161.7,398.0 150.0,415.0C138.3,432.0 146.7,421.0 130.0,432.0C113.3,443.0 125.0,440.0 100.0,448.0C75.0,456.0 77.0,457.0 55.0,456.0C33.0,455.0 37.0,467.0 34.0,445.0Z" fill="#3a0a90" filter="url(#z3)"/></g><rect x="3.9" y="2.3" width="39.4" height="49.8" fill="#fff"/><rect x="6.199999999999999" y="7.10" width="16.8" height="4.2" fill="#36086c"/><text x="27.4" y="11.67" font-size="7.5" style="fill:#222;stroke:#222;stroke-width:0.06px">-1.0</text><rect x="6.199999999999999" y="16.20" width="16.8" height="4.2" fill="#0000a0"/><text x="27.4" y="20.77" font-size="7.5" style="fill:#222;stroke:#222;stroke-width:0.06px">-0.5</text><rect x="6.199999999999999" y="25.30" width="16.8" height="4.2" fill="#12a33a"/><text x="27.4" y="29.88" font-size="7.5" style="fill:#222;stroke:#222;stroke-width:0.06px">0.0</text><rect x="6.199999999999999" y="34.40" width="16.8" height="4.2" fill="#ffd21e"/><text x="27.4" y="38.98" font-size="7.5" style="fill:#222;stroke:#222;stroke-width:0.06px">0.5</text><rect x="6.199999999999999" y="43.50" width="16.8" height="4.2" fill="#e2301c"/><text x="27.4" y="48.07" font-size="7.5" style="fill:#222;stroke:#222;stroke-width:0.06px">1.0</text>
</svg>
</svg>
</body>
</html>
